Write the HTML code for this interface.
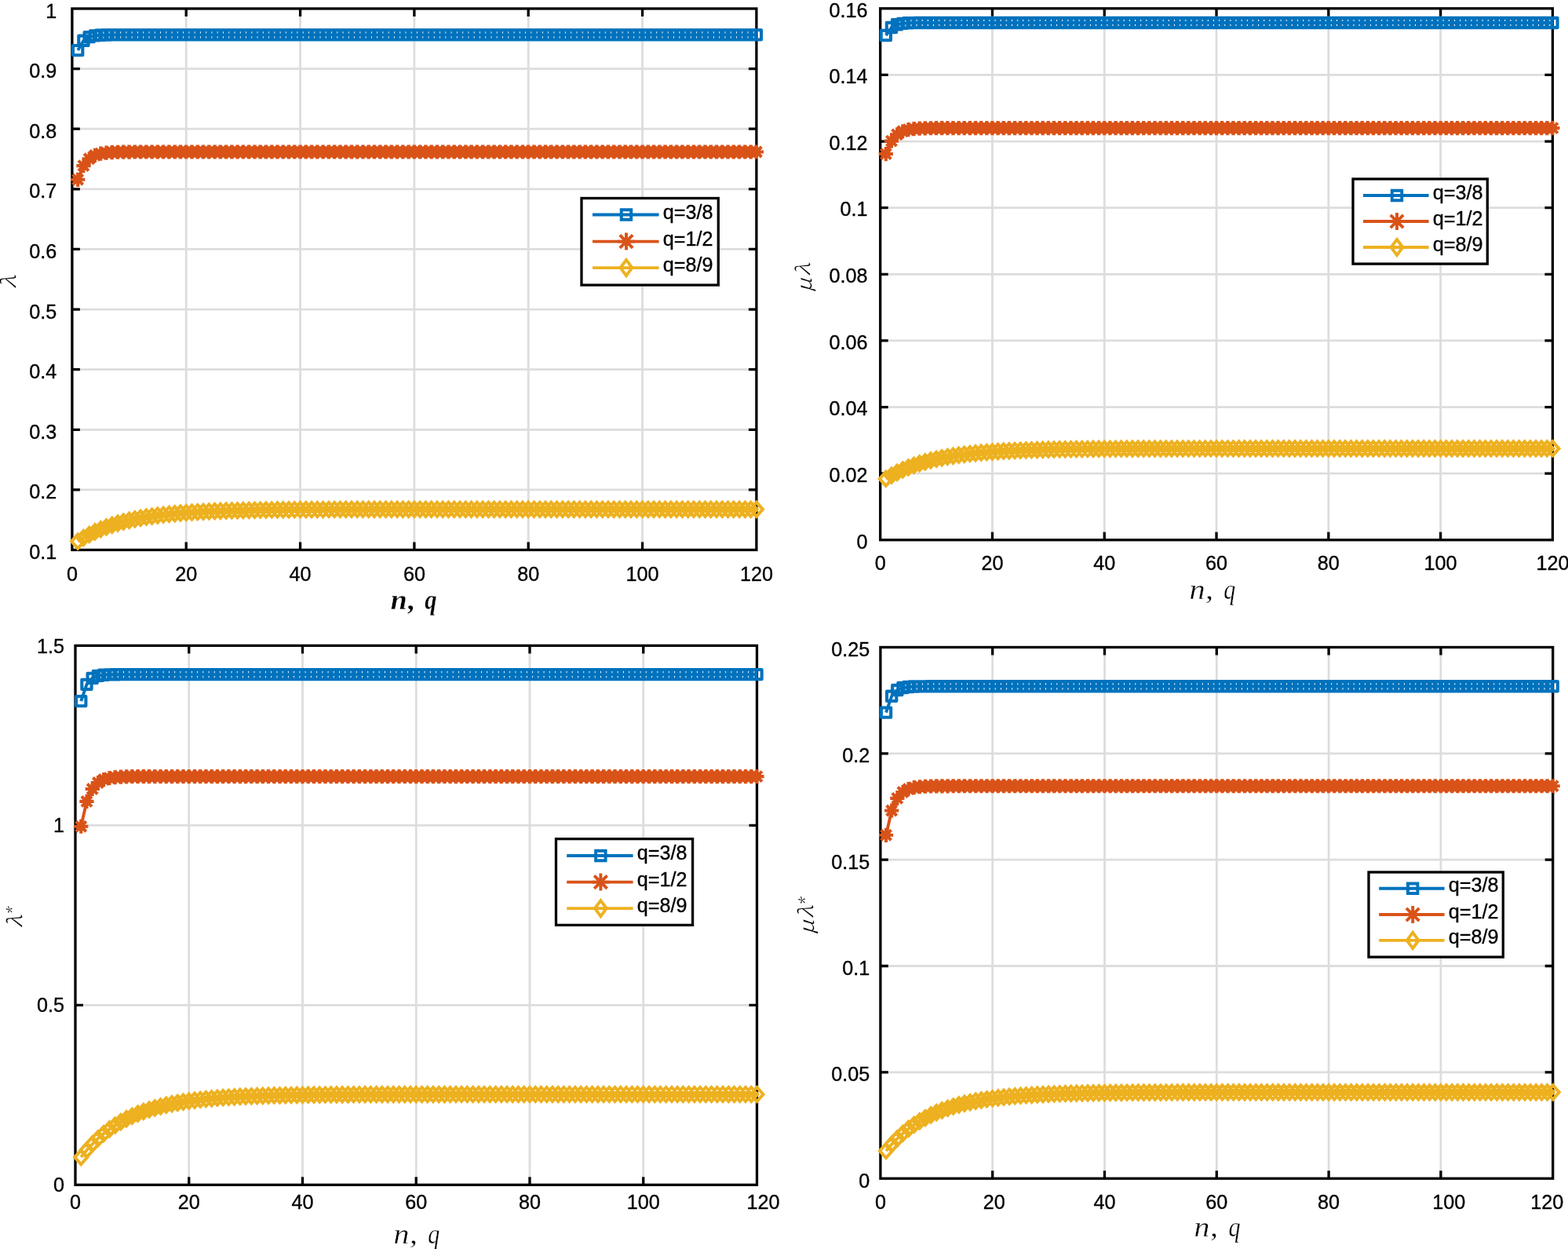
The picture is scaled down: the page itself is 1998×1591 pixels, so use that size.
<!DOCTYPE html><html><head><meta charset="utf-8"><style>html,body{margin:0;padding:0;background:#fff;}svg{display:block}.t{font-family:"Liberation Sans",Arial,Helvetica,sans-serif;font-size:25.2px;fill:#000;stroke:#000;stroke-width:0.35px}.m{font-family:"Liberation Serif","Times New Roman",serif;font-style:italic;fill:#000}</style></head><body>
<svg width="1998" height="1591" viewBox="0 0 1998 1591">
<rect width="1998" height="1591" fill="#fff"/>
<g><path d="M237.23 11V700.5M382.57 11V700.5M527.9 11V700.5M673.23 11V700.5M818.57 11V700.5M91.9 623.89H963.9M91.9 547.28H963.9M91.9 470.67H963.9M91.9 394.06H963.9M91.9 317.44H963.9M91.9 240.83H963.9M91.9 164.22H963.9M91.9 87.61H963.9" stroke="#dddddd" stroke-width="2.8" fill="none"/><path d="M237.23 700.5v-10M237.23 11v10M382.57 700.5v-10M382.57 11v10M527.9 700.5v-10M527.9 11v10M673.23 700.5v-10M673.23 11v10M818.57 700.5v-10M818.57 11v10M91.9 623.89h10M963.9 623.89h-10M91.9 547.28h10M963.9 547.28h-10M91.9 470.67h10M963.9 470.67h-10M91.9 394.06h10M963.9 394.06h-10M91.9 317.44h10M963.9 317.44h-10M91.9 240.83h10M963.9 240.83h-10M91.9 164.22h10M963.9 164.22h-10M91.9 87.61h10M963.9 87.61h-10" stroke="#000" stroke-width="3.3" fill="none"/><rect x="91.9" y="11" width="872" height="689.5" stroke="#000" stroke-width="3.3" fill="none"/><path d="M99.17 64.09 L106.43 51.74 L113.7 47.11 L120.97 45.37 L128.23 44.72 L135.5 44.47 L142.77 44.38 L150.03 44.35 L157.3 44.33 L164.57 44.33 L171.83 44.33 L179.1 44.33 L186.37 44.33 L193.63 44.33 L200.9 44.33 L208.17 44.33 L215.43 44.33 L222.7 44.33 L229.97 44.33 L237.23 44.33 L244.5 44.33 L251.77 44.33 L259.03 44.33 L266.3 44.33 L273.57 44.33 L280.83 44.33 L288.1 44.33 L295.37 44.33 L302.63 44.33 L309.9 44.33 L317.17 44.33 L324.43 44.33 L331.7 44.33 L338.97 44.33 L346.23 44.33 L353.5 44.33 L360.77 44.33 L368.03 44.33 L375.3 44.33 L382.57 44.33 L389.83 44.33 L397.1 44.33 L404.37 44.33 L411.63 44.33 L418.9 44.33 L426.17 44.33 L433.43 44.33 L440.7 44.33 L447.97 44.33 L455.23 44.33 L462.5 44.33 L469.77 44.33 L477.03 44.33 L484.3 44.33 L491.57 44.33 L498.83 44.33 L506.1 44.33 L513.37 44.33 L520.63 44.33 L527.9 44.33 L535.17 44.33 L542.43 44.33 L549.7 44.33 L556.97 44.33 L564.23 44.33 L571.5 44.33 L578.77 44.33 L586.03 44.33 L593.3 44.33 L600.57 44.33 L607.83 44.33 L615.1 44.33 L622.37 44.33 L629.63 44.33 L636.9 44.33 L644.17 44.33 L651.43 44.33 L658.7 44.33 L665.97 44.33 L673.23 44.33 L680.5 44.33 L687.77 44.33 L695.03 44.33 L702.3 44.33 L709.57 44.33 L716.83 44.33 L724.1 44.33 L731.37 44.33 L738.63 44.33 L745.9 44.33 L753.17 44.33 L760.43 44.33 L767.7 44.33 L774.97 44.33 L782.23 44.33 L789.5 44.33 L796.77 44.33 L804.03 44.33 L811.3 44.33 L818.57 44.33 L825.83 44.33 L833.1 44.33 L840.37 44.33 L847.63 44.33 L854.9 44.33 L862.17 44.33 L869.43 44.33 L876.7 44.33 L883.97 44.33 L891.23 44.33 L898.5 44.33 L905.77 44.33 L913.03 44.33 L920.3 44.33 L927.57 44.33 L934.83 44.33 L942.1 44.33 L949.37 44.33 L956.63 44.33 L963.9 44.33" stroke="#0072BD" stroke-width="3.9" fill="none" stroke-linejoin="round"/><path d="M93.02 57.94h12.3v12.3h-12.3zM100.28 45.59h12.3v12.3h-12.3zM107.55 40.96h12.3v12.3h-12.3zM114.82 39.22h12.3v12.3h-12.3zM122.08 38.57h12.3v12.3h-12.3zM129.35 38.32h12.3v12.3h-12.3zM136.62 38.23h12.3v12.3h-12.3zM143.88 38.2h12.3v12.3h-12.3zM151.15 38.18h12.3v12.3h-12.3zM158.42 38.18h12.3v12.3h-12.3zM165.68 38.18h12.3v12.3h-12.3zM172.95 38.18h12.3v12.3h-12.3zM180.22 38.18h12.3v12.3h-12.3zM187.48 38.18h12.3v12.3h-12.3zM194.75 38.18h12.3v12.3h-12.3zM202.02 38.18h12.3v12.3h-12.3zM209.28 38.18h12.3v12.3h-12.3zM216.55 38.18h12.3v12.3h-12.3zM223.82 38.18h12.3v12.3h-12.3zM231.08 38.18h12.3v12.3h-12.3zM238.35 38.18h12.3v12.3h-12.3zM245.62 38.18h12.3v12.3h-12.3zM252.88 38.18h12.3v12.3h-12.3zM260.15 38.18h12.3v12.3h-12.3zM267.42 38.18h12.3v12.3h-12.3zM274.68 38.18h12.3v12.3h-12.3zM281.95 38.18h12.3v12.3h-12.3zM289.22 38.18h12.3v12.3h-12.3zM296.48 38.18h12.3v12.3h-12.3zM303.75 38.18h12.3v12.3h-12.3zM311.02 38.18h12.3v12.3h-12.3zM318.28 38.18h12.3v12.3h-12.3zM325.55 38.18h12.3v12.3h-12.3zM332.82 38.18h12.3v12.3h-12.3zM340.08 38.18h12.3v12.3h-12.3zM347.35 38.18h12.3v12.3h-12.3zM354.62 38.18h12.3v12.3h-12.3zM361.88 38.18h12.3v12.3h-12.3zM369.15 38.18h12.3v12.3h-12.3zM376.42 38.18h12.3v12.3h-12.3zM383.68 38.18h12.3v12.3h-12.3zM390.95 38.18h12.3v12.3h-12.3zM398.22 38.18h12.3v12.3h-12.3zM405.48 38.18h12.3v12.3h-12.3zM412.75 38.18h12.3v12.3h-12.3zM420.02 38.18h12.3v12.3h-12.3zM427.28 38.18h12.3v12.3h-12.3zM434.55 38.18h12.3v12.3h-12.3zM441.82 38.18h12.3v12.3h-12.3zM449.08 38.18h12.3v12.3h-12.3zM456.35 38.18h12.3v12.3h-12.3zM463.62 38.18h12.3v12.3h-12.3zM470.88 38.18h12.3v12.3h-12.3zM478.15 38.18h12.3v12.3h-12.3zM485.42 38.18h12.3v12.3h-12.3zM492.68 38.18h12.3v12.3h-12.3zM499.95 38.18h12.3v12.3h-12.3zM507.22 38.18h12.3v12.3h-12.3zM514.48 38.18h12.3v12.3h-12.3zM521.75 38.18h12.3v12.3h-12.3zM529.02 38.18h12.3v12.3h-12.3zM536.28 38.18h12.3v12.3h-12.3zM543.55 38.18h12.3v12.3h-12.3zM550.82 38.18h12.3v12.3h-12.3zM558.08 38.18h12.3v12.3h-12.3zM565.35 38.18h12.3v12.3h-12.3zM572.62 38.18h12.3v12.3h-12.3zM579.88 38.18h12.3v12.3h-12.3zM587.15 38.18h12.3v12.3h-12.3zM594.42 38.18h12.3v12.3h-12.3zM601.68 38.18h12.3v12.3h-12.3zM608.95 38.18h12.3v12.3h-12.3zM616.22 38.18h12.3v12.3h-12.3zM623.48 38.18h12.3v12.3h-12.3zM630.75 38.18h12.3v12.3h-12.3zM638.02 38.18h12.3v12.3h-12.3zM645.28 38.18h12.3v12.3h-12.3zM652.55 38.18h12.3v12.3h-12.3zM659.82 38.18h12.3v12.3h-12.3zM667.08 38.18h12.3v12.3h-12.3zM674.35 38.18h12.3v12.3h-12.3zM681.62 38.18h12.3v12.3h-12.3zM688.88 38.18h12.3v12.3h-12.3zM696.15 38.18h12.3v12.3h-12.3zM703.42 38.18h12.3v12.3h-12.3zM710.68 38.18h12.3v12.3h-12.3zM717.95 38.18h12.3v12.3h-12.3zM725.22 38.18h12.3v12.3h-12.3zM732.48 38.18h12.3v12.3h-12.3zM739.75 38.18h12.3v12.3h-12.3zM747.02 38.18h12.3v12.3h-12.3zM754.28 38.18h12.3v12.3h-12.3zM761.55 38.18h12.3v12.3h-12.3zM768.82 38.18h12.3v12.3h-12.3zM776.08 38.18h12.3v12.3h-12.3zM783.35 38.18h12.3v12.3h-12.3zM790.62 38.18h12.3v12.3h-12.3zM797.88 38.18h12.3v12.3h-12.3zM805.15 38.18h12.3v12.3h-12.3zM812.42 38.18h12.3v12.3h-12.3zM819.68 38.18h12.3v12.3h-12.3zM826.95 38.18h12.3v12.3h-12.3zM834.22 38.18h12.3v12.3h-12.3zM841.48 38.18h12.3v12.3h-12.3zM848.75 38.18h12.3v12.3h-12.3zM856.02 38.18h12.3v12.3h-12.3zM863.28 38.18h12.3v12.3h-12.3zM870.55 38.18h12.3v12.3h-12.3zM877.82 38.18h12.3v12.3h-12.3zM885.08 38.18h12.3v12.3h-12.3zM892.35 38.18h12.3v12.3h-12.3zM899.62 38.18h12.3v12.3h-12.3zM906.88 38.18h12.3v12.3h-12.3zM914.15 38.18h12.3v12.3h-12.3zM921.42 38.18h12.3v12.3h-12.3zM928.68 38.18h12.3v12.3h-12.3zM935.95 38.18h12.3v12.3h-12.3zM943.22 38.18h12.3v12.3h-12.3zM950.48 38.18h12.3v12.3h-12.3zM957.75 38.18h12.3v12.3h-12.3z" stroke="#0072BD" stroke-width="4.1" fill="none" stroke-linejoin="round"/><path d="M99.17 228.81 L106.43 211.15 L113.7 202.32 L120.97 197.9 L128.23 195.7 L135.5 194.59 L142.77 194.04 L150.03 193.76 L157.3 193.63 L164.57 193.56 L171.83 193.52 L179.1 193.5 L186.37 193.5 L193.63 193.49 L200.9 193.49 L208.17 193.49 L215.43 193.49 L222.7 193.49 L229.97 193.49 L237.23 193.49 L244.5 193.49 L251.77 193.49 L259.03 193.49 L266.3 193.49 L273.57 193.49 L280.83 193.49 L288.1 193.49 L295.37 193.49 L302.63 193.49 L309.9 193.49 L317.17 193.49 L324.43 193.49 L331.7 193.49 L338.97 193.49 L346.23 193.49 L353.5 193.49 L360.77 193.49 L368.03 193.49 L375.3 193.49 L382.57 193.49 L389.83 193.49 L397.1 193.49 L404.37 193.49 L411.63 193.49 L418.9 193.49 L426.17 193.49 L433.43 193.49 L440.7 193.49 L447.97 193.49 L455.23 193.49 L462.5 193.49 L469.77 193.49 L477.03 193.49 L484.3 193.49 L491.57 193.49 L498.83 193.49 L506.1 193.49 L513.37 193.49 L520.63 193.49 L527.9 193.49 L535.17 193.49 L542.43 193.49 L549.7 193.49 L556.97 193.49 L564.23 193.49 L571.5 193.49 L578.77 193.49 L586.03 193.49 L593.3 193.49 L600.57 193.49 L607.83 193.49 L615.1 193.49 L622.37 193.49 L629.63 193.49 L636.9 193.49 L644.17 193.49 L651.43 193.49 L658.7 193.49 L665.97 193.49 L673.23 193.49 L680.5 193.49 L687.77 193.49 L695.03 193.49 L702.3 193.49 L709.57 193.49 L716.83 193.49 L724.1 193.49 L731.37 193.49 L738.63 193.49 L745.9 193.49 L753.17 193.49 L760.43 193.49 L767.7 193.49 L774.97 193.49 L782.23 193.49 L789.5 193.49 L796.77 193.49 L804.03 193.49 L811.3 193.49 L818.57 193.49 L825.83 193.49 L833.1 193.49 L840.37 193.49 L847.63 193.49 L854.9 193.49 L862.17 193.49 L869.43 193.49 L876.7 193.49 L883.97 193.49 L891.23 193.49 L898.5 193.49 L905.77 193.49 L913.03 193.49 L920.3 193.49 L927.57 193.49 L934.83 193.49 L942.1 193.49 L949.37 193.49 L956.63 193.49 L963.9 193.49" stroke="#D95319" stroke-width="3.9" fill="none" stroke-linejoin="round"/><path d="M99.17 219.71v18.2M90.07 228.81h18.2M92.67 222.31l13 13M92.67 235.31l13 -13M106.43 202.05v18.2M97.33 211.15h18.2M99.93 204.65l13 13M99.93 217.65l13 -13M113.7 193.22v18.2M104.6 202.32h18.2M107.2 195.82l13 13M107.2 208.82l13 -13M120.97 188.8v18.2M111.87 197.9h18.2M114.47 191.4l13 13M114.47 204.4l13 -13M128.23 186.6v18.2M119.13 195.7h18.2M121.73 189.2l13 13M121.73 202.2l13 -13M135.5 185.49v18.2M126.4 194.59h18.2M129 188.09l13 13M129 201.09l13 -13M142.77 184.94v18.2M133.67 194.04h18.2M136.27 187.54l13 13M136.27 200.54l13 -13M150.03 184.66v18.2M140.93 193.76h18.2M143.53 187.26l13 13M143.53 200.26l13 -13M157.3 184.53v18.2M148.2 193.63h18.2M150.8 187.13l13 13M150.8 200.13l13 -13M164.57 184.46v18.2M155.47 193.56h18.2M158.07 187.06l13 13M158.07 200.06l13 -13M171.83 184.42v18.2M162.73 193.52h18.2M165.33 187.02l13 13M165.33 200.02l13 -13M179.1 184.4v18.2M170 193.5h18.2M172.6 187l13 13M172.6 200l13 -13M186.37 184.4v18.2M177.27 193.5h18.2M179.87 187l13 13M179.87 200l13 -13M193.63 184.39v18.2M184.53 193.49h18.2M187.13 186.99l13 13M187.13 199.99l13 -13M200.9 184.39v18.2M191.8 193.49h18.2M194.4 186.99l13 13M194.4 199.99l13 -13M208.17 184.39v18.2M199.07 193.49h18.2M201.67 186.99l13 13M201.67 199.99l13 -13M215.43 184.39v18.2M206.33 193.49h18.2M208.93 186.99l13 13M208.93 199.99l13 -13M222.7 184.39v18.2M213.6 193.49h18.2M216.2 186.99l13 13M216.2 199.99l13 -13M229.97 184.39v18.2M220.87 193.49h18.2M223.47 186.99l13 13M223.47 199.99l13 -13M237.23 184.39v18.2M228.13 193.49h18.2M230.73 186.99l13 13M230.73 199.99l13 -13M244.5 184.39v18.2M235.4 193.49h18.2M238 186.99l13 13M238 199.99l13 -13M251.77 184.39v18.2M242.67 193.49h18.2M245.27 186.99l13 13M245.27 199.99l13 -13M259.03 184.39v18.2M249.93 193.49h18.2M252.53 186.99l13 13M252.53 199.99l13 -13M266.3 184.39v18.2M257.2 193.49h18.2M259.8 186.99l13 13M259.8 199.99l13 -13M273.57 184.39v18.2M264.47 193.49h18.2M267.07 186.99l13 13M267.07 199.99l13 -13M280.83 184.39v18.2M271.73 193.49h18.2M274.33 186.99l13 13M274.33 199.99l13 -13M288.1 184.39v18.2M279 193.49h18.2M281.6 186.99l13 13M281.6 199.99l13 -13M295.37 184.39v18.2M286.27 193.49h18.2M288.87 186.99l13 13M288.87 199.99l13 -13M302.63 184.39v18.2M293.53 193.49h18.2M296.13 186.99l13 13M296.13 199.99l13 -13M309.9 184.39v18.2M300.8 193.49h18.2M303.4 186.99l13 13M303.4 199.99l13 -13M317.17 184.39v18.2M308.07 193.49h18.2M310.67 186.99l13 13M310.67 199.99l13 -13M324.43 184.39v18.2M315.33 193.49h18.2M317.93 186.99l13 13M317.93 199.99l13 -13M331.7 184.39v18.2M322.6 193.49h18.2M325.2 186.99l13 13M325.2 199.99l13 -13M338.97 184.39v18.2M329.87 193.49h18.2M332.47 186.99l13 13M332.47 199.99l13 -13M346.23 184.39v18.2M337.13 193.49h18.2M339.73 186.99l13 13M339.73 199.99l13 -13M353.5 184.39v18.2M344.4 193.49h18.2M347 186.99l13 13M347 199.99l13 -13M360.77 184.39v18.2M351.67 193.49h18.2M354.27 186.99l13 13M354.27 199.99l13 -13M368.03 184.39v18.2M358.93 193.49h18.2M361.53 186.99l13 13M361.53 199.99l13 -13M375.3 184.39v18.2M366.2 193.49h18.2M368.8 186.99l13 13M368.8 199.99l13 -13M382.57 184.39v18.2M373.47 193.49h18.2M376.07 186.99l13 13M376.07 199.99l13 -13M389.83 184.39v18.2M380.73 193.49h18.2M383.33 186.99l13 13M383.33 199.99l13 -13M397.1 184.39v18.2M388 193.49h18.2M390.6 186.99l13 13M390.6 199.99l13 -13M404.37 184.39v18.2M395.27 193.49h18.2M397.87 186.99l13 13M397.87 199.99l13 -13M411.63 184.39v18.2M402.53 193.49h18.2M405.13 186.99l13 13M405.13 199.99l13 -13M418.9 184.39v18.2M409.8 193.49h18.2M412.4 186.99l13 13M412.4 199.99l13 -13M426.17 184.39v18.2M417.07 193.49h18.2M419.67 186.99l13 13M419.67 199.99l13 -13M433.43 184.39v18.2M424.33 193.49h18.2M426.93 186.99l13 13M426.93 199.99l13 -13M440.7 184.39v18.2M431.6 193.49h18.2M434.2 186.99l13 13M434.2 199.99l13 -13M447.97 184.39v18.2M438.87 193.49h18.2M441.47 186.99l13 13M441.47 199.99l13 -13M455.23 184.39v18.2M446.13 193.49h18.2M448.73 186.99l13 13M448.73 199.99l13 -13M462.5 184.39v18.2M453.4 193.49h18.2M456 186.99l13 13M456 199.99l13 -13M469.77 184.39v18.2M460.67 193.49h18.2M463.27 186.99l13 13M463.27 199.99l13 -13M477.03 184.39v18.2M467.93 193.49h18.2M470.53 186.99l13 13M470.53 199.99l13 -13M484.3 184.39v18.2M475.2 193.49h18.2M477.8 186.99l13 13M477.8 199.99l13 -13M491.57 184.39v18.2M482.47 193.49h18.2M485.07 186.99l13 13M485.07 199.99l13 -13M498.83 184.39v18.2M489.73 193.49h18.2M492.33 186.99l13 13M492.33 199.99l13 -13M506.1 184.39v18.2M497 193.49h18.2M499.6 186.99l13 13M499.6 199.99l13 -13M513.37 184.39v18.2M504.27 193.49h18.2M506.87 186.99l13 13M506.87 199.99l13 -13M520.63 184.39v18.2M511.53 193.49h18.2M514.13 186.99l13 13M514.13 199.99l13 -13M527.9 184.39v18.2M518.8 193.49h18.2M521.4 186.99l13 13M521.4 199.99l13 -13M535.17 184.39v18.2M526.07 193.49h18.2M528.67 186.99l13 13M528.67 199.99l13 -13M542.43 184.39v18.2M533.33 193.49h18.2M535.93 186.99l13 13M535.93 199.99l13 -13M549.7 184.39v18.2M540.6 193.49h18.2M543.2 186.99l13 13M543.2 199.99l13 -13M556.97 184.39v18.2M547.87 193.49h18.2M550.47 186.99l13 13M550.47 199.99l13 -13M564.23 184.39v18.2M555.13 193.49h18.2M557.73 186.99l13 13M557.73 199.99l13 -13M571.5 184.39v18.2M562.4 193.49h18.2M565 186.99l13 13M565 199.99l13 -13M578.77 184.39v18.2M569.67 193.49h18.2M572.27 186.99l13 13M572.27 199.99l13 -13M586.03 184.39v18.2M576.93 193.49h18.2M579.53 186.99l13 13M579.53 199.99l13 -13M593.3 184.39v18.2M584.2 193.49h18.2M586.8 186.99l13 13M586.8 199.99l13 -13M600.57 184.39v18.2M591.47 193.49h18.2M594.07 186.99l13 13M594.07 199.99l13 -13M607.83 184.39v18.2M598.73 193.49h18.2M601.33 186.99l13 13M601.33 199.99l13 -13M615.1 184.39v18.2M606 193.49h18.2M608.6 186.99l13 13M608.6 199.99l13 -13M622.37 184.39v18.2M613.27 193.49h18.2M615.87 186.99l13 13M615.87 199.99l13 -13M629.63 184.39v18.2M620.53 193.49h18.2M623.13 186.99l13 13M623.13 199.99l13 -13M636.9 184.39v18.2M627.8 193.49h18.2M630.4 186.99l13 13M630.4 199.99l13 -13M644.17 184.39v18.2M635.07 193.49h18.2M637.67 186.99l13 13M637.67 199.99l13 -13M651.43 184.39v18.2M642.33 193.49h18.2M644.93 186.99l13 13M644.93 199.99l13 -13M658.7 184.39v18.2M649.6 193.49h18.2M652.2 186.99l13 13M652.2 199.99l13 -13M665.97 184.39v18.2M656.87 193.49h18.2M659.47 186.99l13 13M659.47 199.99l13 -13M673.23 184.39v18.2M664.13 193.49h18.2M666.73 186.99l13 13M666.73 199.99l13 -13M680.5 184.39v18.2M671.4 193.49h18.2M674 186.99l13 13M674 199.99l13 -13M687.77 184.39v18.2M678.67 193.49h18.2M681.27 186.99l13 13M681.27 199.99l13 -13M695.03 184.39v18.2M685.93 193.49h18.2M688.53 186.99l13 13M688.53 199.99l13 -13M702.3 184.39v18.2M693.2 193.49h18.2M695.8 186.99l13 13M695.8 199.99l13 -13M709.57 184.39v18.2M700.47 193.49h18.2M703.07 186.99l13 13M703.07 199.99l13 -13M716.83 184.39v18.2M707.73 193.49h18.2M710.33 186.99l13 13M710.33 199.99l13 -13M724.1 184.39v18.2M715 193.49h18.2M717.6 186.99l13 13M717.6 199.99l13 -13M731.37 184.39v18.2M722.27 193.49h18.2M724.87 186.99l13 13M724.87 199.99l13 -13M738.63 184.39v18.2M729.53 193.49h18.2M732.13 186.99l13 13M732.13 199.99l13 -13M745.9 184.39v18.2M736.8 193.49h18.2M739.4 186.99l13 13M739.4 199.99l13 -13M753.17 184.39v18.2M744.07 193.49h18.2M746.67 186.99l13 13M746.67 199.99l13 -13M760.43 184.39v18.2M751.33 193.49h18.2M753.93 186.99l13 13M753.93 199.99l13 -13M767.7 184.39v18.2M758.6 193.49h18.2M761.2 186.99l13 13M761.2 199.99l13 -13M774.97 184.39v18.2M765.87 193.49h18.2M768.47 186.99l13 13M768.47 199.99l13 -13M782.23 184.39v18.2M773.13 193.49h18.2M775.73 186.99l13 13M775.73 199.99l13 -13M789.5 184.39v18.2M780.4 193.49h18.2M783 186.99l13 13M783 199.99l13 -13M796.77 184.39v18.2M787.67 193.49h18.2M790.27 186.99l13 13M790.27 199.99l13 -13M804.03 184.39v18.2M794.93 193.49h18.2M797.53 186.99l13 13M797.53 199.99l13 -13M811.3 184.39v18.2M802.2 193.49h18.2M804.8 186.99l13 13M804.8 199.99l13 -13M818.57 184.39v18.2M809.47 193.49h18.2M812.07 186.99l13 13M812.07 199.99l13 -13M825.83 184.39v18.2M816.73 193.49h18.2M819.33 186.99l13 13M819.33 199.99l13 -13M833.1 184.39v18.2M824 193.49h18.2M826.6 186.99l13 13M826.6 199.99l13 -13M840.37 184.39v18.2M831.27 193.49h18.2M833.87 186.99l13 13M833.87 199.99l13 -13M847.63 184.39v18.2M838.53 193.49h18.2M841.13 186.99l13 13M841.13 199.99l13 -13M854.9 184.39v18.2M845.8 193.49h18.2M848.4 186.99l13 13M848.4 199.99l13 -13M862.17 184.39v18.2M853.07 193.49h18.2M855.67 186.99l13 13M855.67 199.99l13 -13M869.43 184.39v18.2M860.33 193.49h18.2M862.93 186.99l13 13M862.93 199.99l13 -13M876.7 184.39v18.2M867.6 193.49h18.2M870.2 186.99l13 13M870.2 199.99l13 -13M883.97 184.39v18.2M874.87 193.49h18.2M877.47 186.99l13 13M877.47 199.99l13 -13M891.23 184.39v18.2M882.13 193.49h18.2M884.73 186.99l13 13M884.73 199.99l13 -13M898.5 184.39v18.2M889.4 193.49h18.2M892 186.99l13 13M892 199.99l13 -13M905.77 184.39v18.2M896.67 193.49h18.2M899.27 186.99l13 13M899.27 199.99l13 -13M913.03 184.39v18.2M903.93 193.49h18.2M906.53 186.99l13 13M906.53 199.99l13 -13M920.3 184.39v18.2M911.2 193.49h18.2M913.8 186.99l13 13M913.8 199.99l13 -13M927.57 184.39v18.2M918.47 193.49h18.2M921.07 186.99l13 13M921.07 199.99l13 -13M934.83 184.39v18.2M925.73 193.49h18.2M928.33 186.99l13 13M928.33 199.99l13 -13M942.1 184.39v18.2M933 193.49h18.2M935.6 186.99l13 13M935.6 199.99l13 -13M949.37 184.39v18.2M940.27 193.49h18.2M942.87 186.99l13 13M942.87 199.99l13 -13M956.63 184.39v18.2M947.53 193.49h18.2M950.13 186.99l13 13M950.13 199.99l13 -13M963.9 184.39v18.2M954.8 193.49h18.2M957.4 186.99l13 13M957.4 199.99l13 -13" stroke="#D95319" stroke-width="4.1" fill="none" stroke-linejoin="round"/><path d="M99.17 689.54 L106.43 685.02 L113.7 680.99 L120.97 677.41 L128.23 674.23 L135.5 671.4 L142.77 668.89 L150.03 666.66 L157.3 664.67 L164.57 662.91 L171.83 661.34 L179.1 659.94 L186.37 658.7 L193.63 657.6 L200.9 656.62 L208.17 655.75 L215.43 654.98 L222.7 654.29 L229.97 653.68 L237.23 653.14 L244.5 652.65 L251.77 652.22 L259.03 651.84 L266.3 651.5 L273.57 651.2 L280.83 650.93 L288.1 650.69 L295.37 650.48 L302.63 650.29 L309.9 650.13 L317.17 649.98 L324.43 649.85 L331.7 649.73 L338.97 649.62 L346.23 649.53 L353.5 649.45 L360.77 649.37 L368.03 649.31 L375.3 649.25 L382.57 649.2 L389.83 649.15 L397.1 649.11 L404.37 649.08 L411.63 649.04 L418.9 649.02 L426.17 648.99 L433.43 648.97 L440.7 648.95 L447.97 648.93 L455.23 648.91 L462.5 648.9 L469.77 648.89 L477.03 648.88 L484.3 648.87 L491.57 648.86 L498.83 648.85 L506.1 648.84 L513.37 648.84 L520.63 648.83 L527.9 648.83 L535.17 648.82 L542.43 648.82 L549.7 648.81 L556.97 648.81 L564.23 648.81 L571.5 648.81 L578.77 648.8 L586.03 648.8 L593.3 648.8 L600.57 648.8 L607.83 648.8 L615.1 648.8 L622.37 648.8 L629.63 648.8 L636.9 648.79 L644.17 648.79 L651.43 648.79 L658.7 648.79 L665.97 648.79 L673.23 648.79 L680.5 648.79 L687.77 648.79 L695.03 648.79 L702.3 648.79 L709.57 648.79 L716.83 648.79 L724.1 648.79 L731.37 648.79 L738.63 648.79 L745.9 648.79 L753.17 648.79 L760.43 648.79 L767.7 648.79 L774.97 648.79 L782.23 648.79 L789.5 648.79 L796.77 648.79 L804.03 648.79 L811.3 648.79 L818.57 648.79 L825.83 648.79 L833.1 648.79 L840.37 648.79 L847.63 648.79 L854.9 648.79 L862.17 648.79 L869.43 648.79 L876.7 648.79 L883.97 648.79 L891.23 648.79 L898.5 648.79 L905.77 648.79 L913.03 648.79 L920.3 648.79 L927.57 648.79 L934.83 648.79 L942.1 648.79 L949.37 648.79 L956.63 648.79 L963.9 648.79" stroke="#EDB120" stroke-width="3.9" fill="none" stroke-linejoin="round"/><path d="M99.17 680.54L107.17 689.54L99.17 698.54L91.17 689.54zM106.43 676.02L114.43 685.02L106.43 694.02L98.43 685.02zM113.7 671.99L121.7 680.99L113.7 689.99L105.7 680.99zM120.97 668.41L128.97 677.41L120.97 686.41L112.97 677.41zM128.23 665.23L136.23 674.23L128.23 683.23L120.23 674.23zM135.5 662.4L143.5 671.4L135.5 680.4L127.5 671.4zM142.77 659.89L150.77 668.89L142.77 677.89L134.77 668.89zM150.03 657.66L158.03 666.66L150.03 675.66L142.03 666.66zM157.3 655.67L165.3 664.67L157.3 673.67L149.3 664.67zM164.57 653.91L172.57 662.91L164.57 671.91L156.57 662.91zM171.83 652.34L179.83 661.34L171.83 670.34L163.83 661.34zM179.1 650.94L187.1 659.94L179.1 668.94L171.1 659.94zM186.37 649.7L194.37 658.7L186.37 667.7L178.37 658.7zM193.63 648.6L201.63 657.6L193.63 666.6L185.63 657.6zM200.9 647.62L208.9 656.62L200.9 665.62L192.9 656.62zM208.17 646.75L216.17 655.75L208.17 664.75L200.17 655.75zM215.43 645.98L223.43 654.98L215.43 663.98L207.43 654.98zM222.7 645.29L230.7 654.29L222.7 663.29L214.7 654.29zM229.97 644.68L237.97 653.68L229.97 662.68L221.97 653.68zM237.23 644.14L245.23 653.14L237.23 662.14L229.23 653.14zM244.5 643.65L252.5 652.65L244.5 661.65L236.5 652.65zM251.77 643.22L259.77 652.22L251.77 661.22L243.77 652.22zM259.03 642.84L267.03 651.84L259.03 660.84L251.03 651.84zM266.3 642.5L274.3 651.5L266.3 660.5L258.3 651.5zM273.57 642.2L281.57 651.2L273.57 660.2L265.57 651.2zM280.83 641.93L288.83 650.93L280.83 659.93L272.83 650.93zM288.1 641.69L296.1 650.69L288.1 659.69L280.1 650.69zM295.37 641.48L303.37 650.48L295.37 659.48L287.37 650.48zM302.63 641.29L310.63 650.29L302.63 659.29L294.63 650.29zM309.9 641.13L317.9 650.13L309.9 659.13L301.9 650.13zM317.17 640.98L325.17 649.98L317.17 658.98L309.17 649.98zM324.43 640.85L332.43 649.85L324.43 658.85L316.43 649.85zM331.7 640.73L339.7 649.73L331.7 658.73L323.7 649.73zM338.97 640.62L346.97 649.62L338.97 658.62L330.97 649.62zM346.23 640.53L354.23 649.53L346.23 658.53L338.23 649.53zM353.5 640.45L361.5 649.45L353.5 658.45L345.5 649.45zM360.77 640.37L368.77 649.37L360.77 658.37L352.77 649.37zM368.03 640.31L376.03 649.31L368.03 658.31L360.03 649.31zM375.3 640.25L383.3 649.25L375.3 658.25L367.3 649.25zM382.57 640.2L390.57 649.2L382.57 658.2L374.57 649.2zM389.83 640.15L397.83 649.15L389.83 658.15L381.83 649.15zM397.1 640.11L405.1 649.11L397.1 658.11L389.1 649.11zM404.37 640.08L412.37 649.08L404.37 658.08L396.37 649.08zM411.63 640.04L419.63 649.04L411.63 658.04L403.63 649.04zM418.9 640.02L426.9 649.02L418.9 658.02L410.9 649.02zM426.17 639.99L434.17 648.99L426.17 657.99L418.17 648.99zM433.43 639.97L441.43 648.97L433.43 657.97L425.43 648.97zM440.7 639.95L448.7 648.95L440.7 657.95L432.7 648.95zM447.97 639.93L455.97 648.93L447.97 657.93L439.97 648.93zM455.23 639.91L463.23 648.91L455.23 657.91L447.23 648.91zM462.5 639.9L470.5 648.9L462.5 657.9L454.5 648.9zM469.77 639.89L477.77 648.89L469.77 657.89L461.77 648.89zM477.03 639.88L485.03 648.88L477.03 657.88L469.03 648.88zM484.3 639.87L492.3 648.87L484.3 657.87L476.3 648.87zM491.57 639.86L499.57 648.86L491.57 657.86L483.57 648.86zM498.83 639.85L506.83 648.85L498.83 657.85L490.83 648.85zM506.1 639.84L514.1 648.84L506.1 657.84L498.1 648.84zM513.37 639.84L521.37 648.84L513.37 657.84L505.37 648.84zM520.63 639.83L528.63 648.83L520.63 657.83L512.63 648.83zM527.9 639.83L535.9 648.83L527.9 657.83L519.9 648.83zM535.17 639.82L543.17 648.82L535.17 657.82L527.17 648.82zM542.43 639.82L550.43 648.82L542.43 657.82L534.43 648.82zM549.7 639.81L557.7 648.81L549.7 657.81L541.7 648.81zM556.97 639.81L564.97 648.81L556.97 657.81L548.97 648.81zM564.23 639.81L572.23 648.81L564.23 657.81L556.23 648.81zM571.5 639.81L579.5 648.81L571.5 657.81L563.5 648.81zM578.77 639.8L586.77 648.8L578.77 657.8L570.77 648.8zM586.03 639.8L594.03 648.8L586.03 657.8L578.03 648.8zM593.3 639.8L601.3 648.8L593.3 657.8L585.3 648.8zM600.57 639.8L608.57 648.8L600.57 657.8L592.57 648.8zM607.83 639.8L615.83 648.8L607.83 657.8L599.83 648.8zM615.1 639.8L623.1 648.8L615.1 657.8L607.1 648.8zM622.37 639.8L630.37 648.8L622.37 657.8L614.37 648.8zM629.63 639.8L637.63 648.8L629.63 657.8L621.63 648.8zM636.9 639.79L644.9 648.79L636.9 657.79L628.9 648.79zM644.17 639.79L652.17 648.79L644.17 657.79L636.17 648.79zM651.43 639.79L659.43 648.79L651.43 657.79L643.43 648.79zM658.7 639.79L666.7 648.79L658.7 657.79L650.7 648.79zM665.97 639.79L673.97 648.79L665.97 657.79L657.97 648.79zM673.23 639.79L681.23 648.79L673.23 657.79L665.23 648.79zM680.5 639.79L688.5 648.79L680.5 657.79L672.5 648.79zM687.77 639.79L695.77 648.79L687.77 657.79L679.77 648.79zM695.03 639.79L703.03 648.79L695.03 657.79L687.03 648.79zM702.3 639.79L710.3 648.79L702.3 657.79L694.3 648.79zM709.57 639.79L717.57 648.79L709.57 657.79L701.57 648.79zM716.83 639.79L724.83 648.79L716.83 657.79L708.83 648.79zM724.1 639.79L732.1 648.79L724.1 657.79L716.1 648.79zM731.37 639.79L739.37 648.79L731.37 657.79L723.37 648.79zM738.63 639.79L746.63 648.79L738.63 657.79L730.63 648.79zM745.9 639.79L753.9 648.79L745.9 657.79L737.9 648.79zM753.17 639.79L761.17 648.79L753.17 657.79L745.17 648.79zM760.43 639.79L768.43 648.79L760.43 657.79L752.43 648.79zM767.7 639.79L775.7 648.79L767.7 657.79L759.7 648.79zM774.97 639.79L782.97 648.79L774.97 657.79L766.97 648.79zM782.23 639.79L790.23 648.79L782.23 657.79L774.23 648.79zM789.5 639.79L797.5 648.79L789.5 657.79L781.5 648.79zM796.77 639.79L804.77 648.79L796.77 657.79L788.77 648.79zM804.03 639.79L812.03 648.79L804.03 657.79L796.03 648.79zM811.3 639.79L819.3 648.79L811.3 657.79L803.3 648.79zM818.57 639.79L826.57 648.79L818.57 657.79L810.57 648.79zM825.83 639.79L833.83 648.79L825.83 657.79L817.83 648.79zM833.1 639.79L841.1 648.79L833.1 657.79L825.1 648.79zM840.37 639.79L848.37 648.79L840.37 657.79L832.37 648.79zM847.63 639.79L855.63 648.79L847.63 657.79L839.63 648.79zM854.9 639.79L862.9 648.79L854.9 657.79L846.9 648.79zM862.17 639.79L870.17 648.79L862.17 657.79L854.17 648.79zM869.43 639.79L877.43 648.79L869.43 657.79L861.43 648.79zM876.7 639.79L884.7 648.79L876.7 657.79L868.7 648.79zM883.97 639.79L891.97 648.79L883.97 657.79L875.97 648.79zM891.23 639.79L899.23 648.79L891.23 657.79L883.23 648.79zM898.5 639.79L906.5 648.79L898.5 657.79L890.5 648.79zM905.77 639.79L913.77 648.79L905.77 657.79L897.77 648.79zM913.03 639.79L921.03 648.79L913.03 657.79L905.03 648.79zM920.3 639.79L928.3 648.79L920.3 657.79L912.3 648.79zM927.57 639.79L935.57 648.79L927.57 657.79L919.57 648.79zM934.83 639.79L942.83 648.79L934.83 657.79L926.83 648.79zM942.1 639.79L950.1 648.79L942.1 657.79L934.1 648.79zM949.37 639.79L957.37 648.79L949.37 657.79L941.37 648.79zM956.63 639.79L964.63 648.79L956.63 657.79L948.63 648.79zM963.9 639.79L971.9 648.79L963.9 657.79L955.9 648.79z" stroke="#EDB120" stroke-width="4.1" fill="none" stroke-linejoin="miter"/><text class="t" x="72.2" y="712.1" text-anchor="end">0.1</text><text class="t" x="72.2" y="635.49" text-anchor="end">0.2</text><text class="t" x="72.2" y="558.88" text-anchor="end">0.3</text><text class="t" x="72.2" y="482.27" text-anchor="end">0.4</text><text class="t" x="72.2" y="405.66" text-anchor="end">0.5</text><text class="t" x="72.2" y="329.04" text-anchor="end">0.6</text><text class="t" x="72.2" y="252.43" text-anchor="end">0.7</text><text class="t" x="72.2" y="175.82" text-anchor="end">0.8</text><text class="t" x="72.2" y="99.21" text-anchor="end">0.9</text><text class="t" x="72.2" y="22.6" text-anchor="end">1</text><text class="t" x="91.9" y="739.5" text-anchor="middle">0</text><text class="t" x="237.23" y="739.5" text-anchor="middle">20</text><text class="t" x="382.57" y="739.5" text-anchor="middle">40</text><text class="t" x="527.9" y="739.5" text-anchor="middle">60</text><text class="t" x="673.23" y="739.5" text-anchor="middle">80</text><text class="t" x="818.57" y="739.5" text-anchor="middle">100</text><text class="t" x="963.9" y="739.5" text-anchor="middle">120</text><text class="m" font-size="100" font-weight="bold" stroke="#fff" stroke-width="1.00" transform="translate(497.75 775.5) scale(0.3773 0.3511)">n</text><text class="m" font-size="100" font-weight="bold" stroke="#fff" stroke-width="1.00" transform="translate(519.95 775.5) scale(0.3773 0.3511)">,</text><text class="m" font-size="100" font-weight="bold" stroke="#fff" stroke-width="1.00" transform="translate(541.34 775.5) scale(0.3065 0.3511)">q</text><text class="m" style="font-family:'Noto Serif CJK SC',serif;font-style:normal;font-weight:300" font-size="100" stroke="#fff" stroke-width="0.00" transform="translate(19.62 367.44) rotate(-90) scale(0.2964 0.2540) skewX(-14)">λ</text><rect x="741" y="252.5" width="174.3" height="110.6" fill="#fff" stroke="#000" stroke-width="3.3"/><path d="M755 273.5H839.6" stroke="#0072BD" stroke-width="3.9"/><path d="M791.75 267.25h12.5v12.5h-12.5z" stroke="#0072BD" stroke-width="3.9" fill="none"/><text class="t" x="844.7" y="278.5">q=3/8</text><path d="M755 307.6H839.6" stroke="#D95319" stroke-width="3.9"/><path d="M798 296.6v22M787 307.6h22M789.8 299.4l16.4 16.4M789.8 315.8l16.4 -16.4" stroke="#D95319" stroke-width="3.9" fill="none"/><text class="t" x="844.7" y="312.6">q=1/2</text><path d="M755 341.1H839.6" stroke="#EDB120" stroke-width="3.9"/><path d="M798 331.1L805.4 341.1L798 351.1L790.6 341.1z" stroke="#EDB120" stroke-width="3.9" fill="none"/><text class="t" x="844.7" y="346.1">q=8/9</text></g>
<g><path d="M1264.48 10.8V687.8M1407.27 10.8V687.8M1550.05 10.8V687.8M1692.83 10.8V687.8M1835.62 10.8V687.8M1121.7 603.17H1978.4M1121.7 518.55H1978.4M1121.7 433.92H1978.4M1121.7 349.3H1978.4M1121.7 264.67H1978.4M1121.7 180.05H1978.4M1121.7 95.42H1978.4" stroke="#dddddd" stroke-width="2.8" fill="none"/><path d="M1264.48 687.8v-10M1264.48 10.8v10M1407.27 687.8v-10M1407.27 10.8v10M1550.05 687.8v-10M1550.05 10.8v10M1692.83 687.8v-10M1692.83 10.8v10M1835.62 687.8v-10M1835.62 10.8v10M1121.7 603.17h10M1978.4 603.17h-10M1121.7 518.55h10M1978.4 518.55h-10M1121.7 433.92h10M1978.4 433.92h-10M1121.7 349.3h10M1978.4 349.3h-10M1121.7 264.67h10M1978.4 264.67h-10M1121.7 180.05h10M1978.4 180.05h-10M1121.7 95.42h10M1978.4 95.42h-10" stroke="#000" stroke-width="3.3" fill="none"/><rect x="1121.7" y="10.8" width="856.7" height="677" stroke="#000" stroke-width="3.3" fill="none"/><path d="M1128.84 45.07 L1135.98 35.02 L1143.12 31.26 L1150.26 29.84 L1157.4 29.31 L1164.54 29.11 L1171.67 29.04 L1178.81 29.01 L1185.95 29 L1193.09 29 L1200.23 29 L1207.37 28.99 L1214.51 28.99 L1221.65 28.99 L1228.79 28.99 L1235.93 28.99 L1243.07 28.99 L1250.2 28.99 L1257.34 28.99 L1264.48 28.99 L1271.62 28.99 L1278.76 28.99 L1285.9 28.99 L1293.04 28.99 L1300.18 28.99 L1307.32 28.99 L1314.46 28.99 L1321.6 28.99 L1328.74 28.99 L1335.88 28.99 L1343.01 28.99 L1350.15 28.99 L1357.29 28.99 L1364.43 28.99 L1371.57 28.99 L1378.71 28.99 L1385.85 28.99 L1392.99 28.99 L1400.13 28.99 L1407.27 28.99 L1414.41 28.99 L1421.55 28.99 L1428.68 28.99 L1435.82 28.99 L1442.96 28.99 L1450.1 28.99 L1457.24 28.99 L1464.38 28.99 L1471.52 28.99 L1478.66 28.99 L1485.8 28.99 L1492.94 28.99 L1500.08 28.99 L1507.22 28.99 L1514.35 28.99 L1521.49 28.99 L1528.63 28.99 L1535.77 28.99 L1542.91 28.99 L1550.05 28.99 L1557.19 28.99 L1564.33 28.99 L1571.47 28.99 L1578.61 28.99 L1585.75 28.99 L1592.89 28.99 L1600.02 28.99 L1607.16 28.99 L1614.3 28.99 L1621.44 28.99 L1628.58 28.99 L1635.72 28.99 L1642.86 28.99 L1650 28.99 L1657.14 28.99 L1664.28 28.99 L1671.42 28.99 L1678.56 28.99 L1685.69 28.99 L1692.83 28.99 L1699.97 28.99 L1707.11 28.99 L1714.25 28.99 L1721.39 28.99 L1728.53 28.99 L1735.67 28.99 L1742.81 28.99 L1749.95 28.99 L1757.09 28.99 L1764.22 28.99 L1771.36 28.99 L1778.5 28.99 L1785.64 28.99 L1792.78 28.99 L1799.92 28.99 L1807.06 28.99 L1814.2 28.99 L1821.34 28.99 L1828.48 28.99 L1835.62 28.99 L1842.76 28.99 L1849.89 28.99 L1857.03 28.99 L1864.17 28.99 L1871.31 28.99 L1878.45 28.99 L1885.59 28.99 L1892.73 28.99 L1899.87 28.99 L1907.01 28.99 L1914.15 28.99 L1921.29 28.99 L1928.43 28.99 L1935.57 28.99 L1942.7 28.99 L1949.84 28.99 L1956.98 28.99 L1964.12 28.99 L1971.26 28.99 L1978.4 28.99" stroke="#0072BD" stroke-width="3.9" fill="none" stroke-linejoin="round"/><path d="M1122.69 38.92h12.3v12.3h-12.3zM1129.83 28.87h12.3v12.3h-12.3zM1136.97 25.11h12.3v12.3h-12.3zM1144.11 23.69h12.3v12.3h-12.3zM1151.25 23.16h12.3v12.3h-12.3zM1158.38 22.96h12.3v12.3h-12.3zM1165.52 22.89h12.3v12.3h-12.3zM1172.66 22.86h12.3v12.3h-12.3zM1179.8 22.85h12.3v12.3h-12.3zM1186.94 22.85h12.3v12.3h-12.3zM1194.08 22.85h12.3v12.3h-12.3zM1201.22 22.84h12.3v12.3h-12.3zM1208.36 22.84h12.3v12.3h-12.3zM1215.5 22.84h12.3v12.3h-12.3zM1222.64 22.84h12.3v12.3h-12.3zM1229.78 22.84h12.3v12.3h-12.3zM1236.92 22.84h12.3v12.3h-12.3zM1244.05 22.84h12.3v12.3h-12.3zM1251.19 22.84h12.3v12.3h-12.3zM1258.33 22.84h12.3v12.3h-12.3zM1265.47 22.84h12.3v12.3h-12.3zM1272.61 22.84h12.3v12.3h-12.3zM1279.75 22.84h12.3v12.3h-12.3zM1286.89 22.84h12.3v12.3h-12.3zM1294.03 22.84h12.3v12.3h-12.3zM1301.17 22.84h12.3v12.3h-12.3zM1308.31 22.84h12.3v12.3h-12.3zM1315.45 22.84h12.3v12.3h-12.3zM1322.59 22.84h12.3v12.3h-12.3zM1329.72 22.84h12.3v12.3h-12.3zM1336.86 22.84h12.3v12.3h-12.3zM1344 22.84h12.3v12.3h-12.3zM1351.14 22.84h12.3v12.3h-12.3zM1358.28 22.84h12.3v12.3h-12.3zM1365.42 22.84h12.3v12.3h-12.3zM1372.56 22.84h12.3v12.3h-12.3zM1379.7 22.84h12.3v12.3h-12.3zM1386.84 22.84h12.3v12.3h-12.3zM1393.98 22.84h12.3v12.3h-12.3zM1401.12 22.84h12.3v12.3h-12.3zM1408.26 22.84h12.3v12.3h-12.3zM1415.39 22.84h12.3v12.3h-12.3zM1422.53 22.84h12.3v12.3h-12.3zM1429.67 22.84h12.3v12.3h-12.3zM1436.81 22.84h12.3v12.3h-12.3zM1443.95 22.84h12.3v12.3h-12.3zM1451.09 22.84h12.3v12.3h-12.3zM1458.23 22.84h12.3v12.3h-12.3zM1465.37 22.84h12.3v12.3h-12.3zM1472.51 22.84h12.3v12.3h-12.3zM1479.65 22.84h12.3v12.3h-12.3zM1486.79 22.84h12.3v12.3h-12.3zM1493.93 22.84h12.3v12.3h-12.3zM1501.07 22.84h12.3v12.3h-12.3zM1508.2 22.84h12.3v12.3h-12.3zM1515.34 22.84h12.3v12.3h-12.3zM1522.48 22.84h12.3v12.3h-12.3zM1529.62 22.84h12.3v12.3h-12.3zM1536.76 22.84h12.3v12.3h-12.3zM1543.9 22.84h12.3v12.3h-12.3zM1551.04 22.84h12.3v12.3h-12.3zM1558.18 22.84h12.3v12.3h-12.3zM1565.32 22.84h12.3v12.3h-12.3zM1572.46 22.84h12.3v12.3h-12.3zM1579.6 22.84h12.3v12.3h-12.3zM1586.74 22.84h12.3v12.3h-12.3zM1593.87 22.84h12.3v12.3h-12.3zM1601.01 22.84h12.3v12.3h-12.3zM1608.15 22.84h12.3v12.3h-12.3zM1615.29 22.84h12.3v12.3h-12.3zM1622.43 22.84h12.3v12.3h-12.3zM1629.57 22.84h12.3v12.3h-12.3zM1636.71 22.84h12.3v12.3h-12.3zM1643.85 22.84h12.3v12.3h-12.3zM1650.99 22.84h12.3v12.3h-12.3zM1658.13 22.84h12.3v12.3h-12.3zM1665.27 22.84h12.3v12.3h-12.3zM1672.4 22.84h12.3v12.3h-12.3zM1679.54 22.84h12.3v12.3h-12.3zM1686.68 22.84h12.3v12.3h-12.3zM1693.82 22.84h12.3v12.3h-12.3zM1700.96 22.84h12.3v12.3h-12.3zM1708.1 22.84h12.3v12.3h-12.3zM1715.24 22.84h12.3v12.3h-12.3zM1722.38 22.84h12.3v12.3h-12.3zM1729.52 22.84h12.3v12.3h-12.3zM1736.66 22.84h12.3v12.3h-12.3zM1743.8 22.84h12.3v12.3h-12.3zM1750.94 22.84h12.3v12.3h-12.3zM1758.07 22.84h12.3v12.3h-12.3zM1765.21 22.84h12.3v12.3h-12.3zM1772.35 22.84h12.3v12.3h-12.3zM1779.49 22.84h12.3v12.3h-12.3zM1786.63 22.84h12.3v12.3h-12.3zM1793.77 22.84h12.3v12.3h-12.3zM1800.91 22.84h12.3v12.3h-12.3zM1808.05 22.84h12.3v12.3h-12.3zM1815.19 22.84h12.3v12.3h-12.3zM1822.33 22.84h12.3v12.3h-12.3zM1829.47 22.84h12.3v12.3h-12.3zM1836.61 22.84h12.3v12.3h-12.3zM1843.74 22.84h12.3v12.3h-12.3zM1850.88 22.84h12.3v12.3h-12.3zM1858.02 22.84h12.3v12.3h-12.3zM1865.16 22.84h12.3v12.3h-12.3zM1872.3 22.84h12.3v12.3h-12.3zM1879.44 22.84h12.3v12.3h-12.3zM1886.58 22.84h12.3v12.3h-12.3zM1893.72 22.84h12.3v12.3h-12.3zM1900.86 22.84h12.3v12.3h-12.3zM1908 22.84h12.3v12.3h-12.3zM1915.14 22.84h12.3v12.3h-12.3zM1922.28 22.84h12.3v12.3h-12.3zM1929.41 22.84h12.3v12.3h-12.3zM1936.55 22.84h12.3v12.3h-12.3zM1943.69 22.84h12.3v12.3h-12.3zM1950.83 22.84h12.3v12.3h-12.3zM1957.97 22.84h12.3v12.3h-12.3zM1965.11 22.84h12.3v12.3h-12.3zM1972.25 22.84h12.3v12.3h-12.3z" stroke="#0072BD" stroke-width="4.1" fill="none" stroke-linejoin="round"/><path d="M1128.84 196.13 L1135.98 179.63 L1143.12 171.38 L1150.26 167.25 L1157.4 165.19 L1164.54 164.16 L1171.67 163.64 L1178.81 163.38 L1185.95 163.25 L1193.09 163.19 L1200.23 163.16 L1207.37 163.14 L1214.51 163.13 L1221.65 163.13 L1228.79 163.13 L1235.93 163.13 L1243.07 163.13 L1250.2 163.13 L1257.34 163.13 L1264.48 163.13 L1271.62 163.13 L1278.76 163.13 L1285.9 163.13 L1293.04 163.13 L1300.18 163.13 L1307.32 163.13 L1314.46 163.13 L1321.6 163.13 L1328.74 163.13 L1335.88 163.13 L1343.01 163.13 L1350.15 163.13 L1357.29 163.13 L1364.43 163.13 L1371.57 163.13 L1378.71 163.13 L1385.85 163.13 L1392.99 163.13 L1400.13 163.13 L1407.27 163.13 L1414.41 163.13 L1421.55 163.13 L1428.68 163.13 L1435.82 163.13 L1442.96 163.13 L1450.1 163.13 L1457.24 163.13 L1464.38 163.13 L1471.52 163.13 L1478.66 163.12 L1485.8 163.12 L1492.94 163.12 L1500.08 163.12 L1507.22 163.12 L1514.35 163.12 L1521.49 163.12 L1528.63 163.12 L1535.77 163.12 L1542.91 163.12 L1550.05 163.12 L1557.19 163.12 L1564.33 163.12 L1571.47 163.12 L1578.61 163.12 L1585.75 163.12 L1592.89 163.12 L1600.02 163.12 L1607.16 163.12 L1614.3 163.12 L1621.44 163.12 L1628.58 163.12 L1635.72 163.12 L1642.86 163.12 L1650 163.12 L1657.14 163.12 L1664.28 163.12 L1671.42 163.12 L1678.56 163.12 L1685.69 163.12 L1692.83 163.12 L1699.97 163.12 L1707.11 163.12 L1714.25 163.12 L1721.39 163.12 L1728.53 163.12 L1735.67 163.12 L1742.81 163.12 L1749.95 163.12 L1757.09 163.12 L1764.22 163.12 L1771.36 163.12 L1778.5 163.12 L1785.64 163.12 L1792.78 163.12 L1799.92 163.12 L1807.06 163.12 L1814.2 163.12 L1821.34 163.12 L1828.48 163.12 L1835.62 163.12 L1842.76 163.12 L1849.89 163.12 L1857.03 163.12 L1864.17 163.12 L1871.31 163.12 L1878.45 163.12 L1885.59 163.12 L1892.73 163.12 L1899.87 163.12 L1907.01 163.12 L1914.15 163.12 L1921.29 163.12 L1928.43 163.12 L1935.57 163.12 L1942.7 163.12 L1949.84 163.12 L1956.98 163.12 L1964.12 163.12 L1971.26 163.12 L1978.4 163.12" stroke="#D95319" stroke-width="3.9" fill="none" stroke-linejoin="round"/><path d="M1128.84 187.03v18.2M1119.74 196.13h18.2M1122.34 189.63l13 13M1122.34 202.63l13 -13M1135.98 170.53v18.2M1126.88 179.63h18.2M1129.48 173.13l13 13M1129.48 186.13l13 -13M1143.12 162.28v18.2M1134.02 171.38h18.2M1136.62 164.88l13 13M1136.62 177.88l13 -13M1150.26 158.15v18.2M1141.16 167.25h18.2M1143.76 160.75l13 13M1143.76 173.75l13 -13M1157.4 156.09v18.2M1148.3 165.19h18.2M1150.9 158.69l13 13M1150.9 171.69l13 -13M1164.54 155.06v18.2M1155.44 164.16h18.2M1158.04 157.66l13 13M1158.04 170.66l13 -13M1171.67 154.54v18.2M1162.57 163.64h18.2M1165.17 157.14l13 13M1165.17 170.14l13 -13M1178.81 154.28v18.2M1169.71 163.38h18.2M1172.31 156.88l13 13M1172.31 169.88l13 -13M1185.95 154.15v18.2M1176.85 163.25h18.2M1179.45 156.75l13 13M1179.45 169.75l13 -13M1193.09 154.09v18.2M1183.99 163.19h18.2M1186.59 156.69l13 13M1186.59 169.69l13 -13M1200.23 154.06v18.2M1191.13 163.16h18.2M1193.73 156.66l13 13M1193.73 169.66l13 -13M1207.37 154.04v18.2M1198.27 163.14h18.2M1200.87 156.64l13 13M1200.87 169.64l13 -13M1214.51 154.03v18.2M1205.41 163.13h18.2M1208.01 156.63l13 13M1208.01 169.63l13 -13M1221.65 154.03v18.2M1212.55 163.13h18.2M1215.15 156.63l13 13M1215.15 169.63l13 -13M1228.79 154.03v18.2M1219.69 163.13h18.2M1222.29 156.63l13 13M1222.29 169.63l13 -13M1235.93 154.03v18.2M1226.83 163.13h18.2M1229.43 156.63l13 13M1229.43 169.63l13 -13M1243.07 154.03v18.2M1233.97 163.13h18.2M1236.57 156.63l13 13M1236.57 169.63l13 -13M1250.2 154.03v18.2M1241.11 163.13h18.2M1243.7 156.63l13 13M1243.7 169.63l13 -13M1257.34 154.03v18.2M1248.24 163.13h18.2M1250.84 156.63l13 13M1250.84 169.63l13 -13M1264.48 154.03v18.2M1255.38 163.13h18.2M1257.98 156.63l13 13M1257.98 169.63l13 -13M1271.62 154.03v18.2M1262.52 163.13h18.2M1265.12 156.63l13 13M1265.12 169.63l13 -13M1278.76 154.03v18.2M1269.66 163.13h18.2M1272.26 156.63l13 13M1272.26 169.63l13 -13M1285.9 154.03v18.2M1276.8 163.13h18.2M1279.4 156.63l13 13M1279.4 169.63l13 -13M1293.04 154.03v18.2M1283.94 163.13h18.2M1286.54 156.63l13 13M1286.54 169.63l13 -13M1300.18 154.03v18.2M1291.08 163.13h18.2M1293.68 156.63l13 13M1293.68 169.63l13 -13M1307.32 154.03v18.2M1298.22 163.13h18.2M1300.82 156.63l13 13M1300.82 169.63l13 -13M1314.46 154.03v18.2M1305.36 163.13h18.2M1307.96 156.63l13 13M1307.96 169.63l13 -13M1321.6 154.03v18.2M1312.5 163.13h18.2M1315.1 156.63l13 13M1315.1 169.63l13 -13M1328.74 154.03v18.2M1319.64 163.13h18.2M1322.24 156.63l13 13M1322.24 169.63l13 -13M1335.88 154.03v18.2M1326.78 163.13h18.2M1329.38 156.63l13 13M1329.38 169.63l13 -13M1343.01 154.03v18.2M1333.91 163.13h18.2M1336.51 156.63l13 13M1336.51 169.63l13 -13M1350.15 154.03v18.2M1341.05 163.13h18.2M1343.65 156.63l13 13M1343.65 169.63l13 -13M1357.29 154.03v18.2M1348.19 163.13h18.2M1350.79 156.63l13 13M1350.79 169.63l13 -13M1364.43 154.03v18.2M1355.33 163.13h18.2M1357.93 156.63l13 13M1357.93 169.63l13 -13M1371.57 154.03v18.2M1362.47 163.13h18.2M1365.07 156.63l13 13M1365.07 169.63l13 -13M1378.71 154.03v18.2M1369.61 163.13h18.2M1372.21 156.63l13 13M1372.21 169.63l13 -13M1385.85 154.03v18.2M1376.75 163.13h18.2M1379.35 156.63l13 13M1379.35 169.63l13 -13M1392.99 154.03v18.2M1383.89 163.13h18.2M1386.49 156.63l13 13M1386.49 169.63l13 -13M1400.13 154.03v18.2M1391.03 163.13h18.2M1393.63 156.63l13 13M1393.63 169.63l13 -13M1407.27 154.03v18.2M1398.17 163.13h18.2M1400.77 156.63l13 13M1400.77 169.63l13 -13M1414.41 154.03v18.2M1405.31 163.13h18.2M1407.91 156.63l13 13M1407.91 169.63l13 -13M1421.55 154.03v18.2M1412.45 163.13h18.2M1415.05 156.63l13 13M1415.05 169.63l13 -13M1428.68 154.03v18.2M1419.58 163.13h18.2M1422.18 156.63l13 13M1422.18 169.63l13 -13M1435.82 154.03v18.2M1426.72 163.13h18.2M1429.32 156.63l13 13M1429.32 169.63l13 -13M1442.96 154.03v18.2M1433.86 163.13h18.2M1436.46 156.63l13 13M1436.46 169.63l13 -13M1450.1 154.03v18.2M1441 163.13h18.2M1443.6 156.63l13 13M1443.6 169.63l13 -13M1457.24 154.03v18.2M1448.14 163.13h18.2M1450.74 156.63l13 13M1450.74 169.63l13 -13M1464.38 154.03v18.2M1455.28 163.13h18.2M1457.88 156.63l13 13M1457.88 169.63l13 -13M1471.52 154.03v18.2M1462.42 163.13h18.2M1465.02 156.63l13 13M1465.02 169.63l13 -13M1478.66 154.03v18.2M1469.56 163.12h18.2M1472.16 156.62l13 13M1472.16 169.62l13 -13M1485.8 154.03v18.2M1476.7 163.12h18.2M1479.3 156.62l13 13M1479.3 169.62l13 -13M1492.94 154.03v18.2M1483.84 163.12h18.2M1486.44 156.62l13 13M1486.44 169.62l13 -13M1500.08 154.03v18.2M1490.98 163.12h18.2M1493.58 156.62l13 13M1493.58 169.62l13 -13M1507.22 154.03v18.2M1498.12 163.12h18.2M1500.72 156.62l13 13M1500.72 169.62l13 -13M1514.35 154.03v18.2M1505.25 163.12h18.2M1507.85 156.62l13 13M1507.85 169.62l13 -13M1521.49 154.03v18.2M1512.39 163.12h18.2M1514.99 156.62l13 13M1514.99 169.62l13 -13M1528.63 154.03v18.2M1519.53 163.12h18.2M1522.13 156.62l13 13M1522.13 169.62l13 -13M1535.77 154.03v18.2M1526.67 163.12h18.2M1529.27 156.62l13 13M1529.27 169.62l13 -13M1542.91 154.03v18.2M1533.81 163.12h18.2M1536.41 156.62l13 13M1536.41 169.62l13 -13M1550.05 154.03v18.2M1540.95 163.12h18.2M1543.55 156.62l13 13M1543.55 169.62l13 -13M1557.19 154.03v18.2M1548.09 163.12h18.2M1550.69 156.62l13 13M1550.69 169.62l13 -13M1564.33 154.03v18.2M1555.23 163.12h18.2M1557.83 156.62l13 13M1557.83 169.62l13 -13M1571.47 154.03v18.2M1562.37 163.12h18.2M1564.97 156.62l13 13M1564.97 169.62l13 -13M1578.61 154.03v18.2M1569.51 163.12h18.2M1572.11 156.62l13 13M1572.11 169.62l13 -13M1585.75 154.03v18.2M1576.65 163.12h18.2M1579.25 156.62l13 13M1579.25 169.62l13 -13M1592.89 154.03v18.2M1583.79 163.12h18.2M1586.39 156.62l13 13M1586.39 169.62l13 -13M1600.02 154.03v18.2M1590.92 163.12h18.2M1593.52 156.62l13 13M1593.52 169.62l13 -13M1607.16 154.03v18.2M1598.06 163.12h18.2M1600.66 156.62l13 13M1600.66 169.62l13 -13M1614.3 154.03v18.2M1605.2 163.12h18.2M1607.8 156.62l13 13M1607.8 169.62l13 -13M1621.44 154.03v18.2M1612.34 163.12h18.2M1614.94 156.62l13 13M1614.94 169.62l13 -13M1628.58 154.03v18.2M1619.48 163.12h18.2M1622.08 156.62l13 13M1622.08 169.62l13 -13M1635.72 154.03v18.2M1626.62 163.12h18.2M1629.22 156.62l13 13M1629.22 169.62l13 -13M1642.86 154.03v18.2M1633.76 163.12h18.2M1636.36 156.62l13 13M1636.36 169.62l13 -13M1650 154.03v18.2M1640.9 163.12h18.2M1643.5 156.62l13 13M1643.5 169.62l13 -13M1657.14 154.03v18.2M1648.04 163.12h18.2M1650.64 156.62l13 13M1650.64 169.62l13 -13M1664.28 154.03v18.2M1655.18 163.12h18.2M1657.78 156.62l13 13M1657.78 169.62l13 -13M1671.42 154.03v18.2M1662.32 163.12h18.2M1664.92 156.62l13 13M1664.92 169.62l13 -13M1678.56 154.03v18.2M1669.46 163.12h18.2M1672.06 156.62l13 13M1672.06 169.62l13 -13M1685.69 154.03v18.2M1676.59 163.12h18.2M1679.19 156.62l13 13M1679.19 169.62l13 -13M1692.83 154.03v18.2M1683.73 163.12h18.2M1686.33 156.62l13 13M1686.33 169.62l13 -13M1699.97 154.03v18.2M1690.87 163.12h18.2M1693.47 156.62l13 13M1693.47 169.62l13 -13M1707.11 154.03v18.2M1698.01 163.12h18.2M1700.61 156.62l13 13M1700.61 169.62l13 -13M1714.25 154.03v18.2M1705.15 163.12h18.2M1707.75 156.62l13 13M1707.75 169.62l13 -13M1721.39 154.03v18.2M1712.29 163.12h18.2M1714.89 156.62l13 13M1714.89 169.62l13 -13M1728.53 154.03v18.2M1719.43 163.12h18.2M1722.03 156.62l13 13M1722.03 169.62l13 -13M1735.67 154.03v18.2M1726.57 163.12h18.2M1729.17 156.62l13 13M1729.17 169.62l13 -13M1742.81 154.03v18.2M1733.71 163.12h18.2M1736.31 156.62l13 13M1736.31 169.62l13 -13M1749.95 154.03v18.2M1740.85 163.12h18.2M1743.45 156.62l13 13M1743.45 169.62l13 -13M1757.09 154.03v18.2M1747.99 163.12h18.2M1750.59 156.62l13 13M1750.59 169.62l13 -13M1764.22 154.03v18.2M1755.12 163.12h18.2M1757.72 156.62l13 13M1757.72 169.62l13 -13M1771.36 154.03v18.2M1762.26 163.12h18.2M1764.86 156.62l13 13M1764.86 169.62l13 -13M1778.5 154.03v18.2M1769.4 163.12h18.2M1772 156.62l13 13M1772 169.62l13 -13M1785.64 154.03v18.2M1776.54 163.12h18.2M1779.14 156.62l13 13M1779.14 169.62l13 -13M1792.78 154.03v18.2M1783.68 163.12h18.2M1786.28 156.62l13 13M1786.28 169.62l13 -13M1799.92 154.03v18.2M1790.82 163.12h18.2M1793.42 156.62l13 13M1793.42 169.62l13 -13M1807.06 154.03v18.2M1797.96 163.12h18.2M1800.56 156.62l13 13M1800.56 169.62l13 -13M1814.2 154.03v18.2M1805.1 163.12h18.2M1807.7 156.62l13 13M1807.7 169.62l13 -13M1821.34 154.03v18.2M1812.24 163.12h18.2M1814.84 156.62l13 13M1814.84 169.62l13 -13M1828.48 154.03v18.2M1819.38 163.12h18.2M1821.98 156.62l13 13M1821.98 169.62l13 -13M1835.62 154.03v18.2M1826.52 163.12h18.2M1829.12 156.62l13 13M1829.12 169.62l13 -13M1842.76 154.03v18.2M1833.66 163.12h18.2M1836.26 156.62l13 13M1836.26 169.62l13 -13M1849.89 154.03v18.2M1840.8 163.12h18.2M1843.39 156.62l13 13M1843.39 169.62l13 -13M1857.03 154.03v18.2M1847.93 163.12h18.2M1850.53 156.62l13 13M1850.53 169.62l13 -13M1864.17 154.03v18.2M1855.07 163.12h18.2M1857.67 156.62l13 13M1857.67 169.62l13 -13M1871.31 154.03v18.2M1862.21 163.12h18.2M1864.81 156.62l13 13M1864.81 169.62l13 -13M1878.45 154.03v18.2M1869.35 163.12h18.2M1871.95 156.62l13 13M1871.95 169.62l13 -13M1885.59 154.03v18.2M1876.49 163.12h18.2M1879.09 156.62l13 13M1879.09 169.62l13 -13M1892.73 154.03v18.2M1883.63 163.12h18.2M1886.23 156.62l13 13M1886.23 169.62l13 -13M1899.87 154.03v18.2M1890.77 163.12h18.2M1893.37 156.62l13 13M1893.37 169.62l13 -13M1907.01 154.03v18.2M1897.91 163.12h18.2M1900.51 156.62l13 13M1900.51 169.62l13 -13M1914.15 154.03v18.2M1905.05 163.12h18.2M1907.65 156.62l13 13M1907.65 169.62l13 -13M1921.29 154.03v18.2M1912.19 163.12h18.2M1914.79 156.62l13 13M1914.79 169.62l13 -13M1928.43 154.03v18.2M1919.33 163.12h18.2M1921.93 156.62l13 13M1921.93 169.62l13 -13M1935.57 154.03v18.2M1926.47 163.12h18.2M1929.07 156.62l13 13M1929.07 169.62l13 -13M1942.7 154.03v18.2M1933.6 163.12h18.2M1936.2 156.62l13 13M1936.2 169.62l13 -13M1949.84 154.03v18.2M1940.74 163.12h18.2M1943.34 156.62l13 13M1943.34 169.62l13 -13M1956.98 154.03v18.2M1947.88 163.12h18.2M1950.48 156.62l13 13M1950.48 169.62l13 -13M1964.12 154.03v18.2M1955.02 163.12h18.2M1957.62 156.62l13 13M1957.62 169.62l13 -13M1971.26 154.03v18.2M1962.16 163.12h18.2M1964.76 156.62l13 13M1964.76 169.62l13 -13M1978.4 154.03v18.2M1969.3 163.12h18.2M1971.9 156.62l13 13M1971.9 169.62l13 -13" stroke="#D95319" stroke-width="4.1" fill="none" stroke-linejoin="round"/><path d="M1128.84 609.94 L1135.98 605.67 L1143.12 601.86 L1150.26 598.48 L1157.4 595.48 L1164.54 592.81 L1171.67 590.43 L1178.81 588.32 L1185.95 586.45 L1193.09 584.78 L1200.23 583.3 L1207.37 581.98 L1214.51 580.81 L1221.65 579.77 L1228.79 578.84 L1235.93 578.02 L1243.07 577.29 L1250.2 576.64 L1257.34 576.06 L1264.48 575.55 L1271.62 575.09 L1278.76 574.69 L1285.9 574.33 L1293.04 574.01 L1300.18 573.72 L1307.32 573.47 L1314.46 573.24 L1321.6 573.04 L1328.74 572.86 L1335.88 572.71 L1343.01 572.57 L1350.15 572.44 L1357.29 572.33 L1364.43 572.23 L1371.57 572.14 L1378.71 572.06 L1385.85 572 L1392.99 571.93 L1400.13 571.88 L1407.27 571.83 L1414.41 571.79 L1421.55 571.75 L1428.68 571.71 L1435.82 571.68 L1442.96 571.66 L1450.1 571.63 L1457.24 571.61 L1464.38 571.59 L1471.52 571.58 L1478.66 571.56 L1485.8 571.55 L1492.94 571.54 L1500.08 571.52 L1507.22 571.52 L1514.35 571.51 L1521.49 571.5 L1528.63 571.49 L1535.77 571.49 L1542.91 571.48 L1550.05 571.48 L1557.19 571.47 L1564.33 571.47 L1571.47 571.47 L1578.61 571.46 L1585.75 571.46 L1592.89 571.46 L1600.02 571.46 L1607.16 571.46 L1614.3 571.45 L1621.44 571.45 L1628.58 571.45 L1635.72 571.45 L1642.86 571.45 L1650 571.45 L1657.14 571.45 L1664.28 571.45 L1671.42 571.45 L1678.56 571.45 L1685.69 571.44 L1692.83 571.44 L1699.97 571.44 L1707.11 571.44 L1714.25 571.44 L1721.39 571.44 L1728.53 571.44 L1735.67 571.44 L1742.81 571.44 L1749.95 571.44 L1757.09 571.44 L1764.22 571.44 L1771.36 571.44 L1778.5 571.44 L1785.64 571.44 L1792.78 571.44 L1799.92 571.44 L1807.06 571.44 L1814.2 571.44 L1821.34 571.44 L1828.48 571.44 L1835.62 571.44 L1842.76 571.44 L1849.89 571.44 L1857.03 571.44 L1864.17 571.44 L1871.31 571.44 L1878.45 571.44 L1885.59 571.44 L1892.73 571.44 L1899.87 571.44 L1907.01 571.44 L1914.15 571.44 L1921.29 571.44 L1928.43 571.44 L1935.57 571.44 L1942.7 571.44 L1949.84 571.44 L1956.98 571.44 L1964.12 571.44 L1971.26 571.44 L1978.4 571.44" stroke="#EDB120" stroke-width="3.9" fill="none" stroke-linejoin="round"/><path d="M1128.84 600.94L1136.84 609.94L1128.84 618.94L1120.84 609.94zM1135.98 596.67L1143.98 605.67L1135.98 614.67L1127.98 605.67zM1143.12 592.86L1151.12 601.86L1143.12 610.86L1135.12 601.86zM1150.26 589.48L1158.26 598.48L1150.26 607.48L1142.26 598.48zM1157.4 586.48L1165.4 595.48L1157.4 604.48L1149.4 595.48zM1164.54 583.81L1172.54 592.81L1164.54 601.81L1156.54 592.81zM1171.67 581.43L1179.67 590.43L1171.67 599.43L1163.67 590.43zM1178.81 579.32L1186.81 588.32L1178.81 597.32L1170.81 588.32zM1185.95 577.45L1193.95 586.45L1185.95 595.45L1177.95 586.45zM1193.09 575.78L1201.09 584.78L1193.09 593.78L1185.09 584.78zM1200.23 574.3L1208.23 583.3L1200.23 592.3L1192.23 583.3zM1207.37 572.98L1215.37 581.98L1207.37 590.98L1199.37 581.98zM1214.51 571.81L1222.51 580.81L1214.51 589.81L1206.51 580.81zM1221.65 570.77L1229.65 579.77L1221.65 588.77L1213.65 579.77zM1228.79 569.84L1236.79 578.84L1228.79 587.84L1220.79 578.84zM1235.93 569.02L1243.93 578.02L1235.93 587.02L1227.93 578.02zM1243.07 568.29L1251.07 577.29L1243.07 586.29L1235.07 577.29zM1250.2 567.64L1258.2 576.64L1250.2 585.64L1242.2 576.64zM1257.34 567.06L1265.34 576.06L1257.34 585.06L1249.34 576.06zM1264.48 566.55L1272.48 575.55L1264.48 584.55L1256.48 575.55zM1271.62 566.09L1279.62 575.09L1271.62 584.09L1263.62 575.09zM1278.76 565.69L1286.76 574.69L1278.76 583.69L1270.76 574.69zM1285.9 565.33L1293.9 574.33L1285.9 583.33L1277.9 574.33zM1293.04 565.01L1301.04 574.01L1293.04 583.01L1285.04 574.01zM1300.18 564.72L1308.18 573.72L1300.18 582.72L1292.18 573.72zM1307.32 564.47L1315.32 573.47L1307.32 582.47L1299.32 573.47zM1314.46 564.24L1322.46 573.24L1314.46 582.24L1306.46 573.24zM1321.6 564.04L1329.6 573.04L1321.6 582.04L1313.6 573.04zM1328.74 563.86L1336.74 572.86L1328.74 581.86L1320.74 572.86zM1335.88 563.71L1343.88 572.71L1335.88 581.71L1327.88 572.71zM1343.01 563.57L1351.01 572.57L1343.01 581.57L1335.01 572.57zM1350.15 563.44L1358.15 572.44L1350.15 581.44L1342.15 572.44zM1357.29 563.33L1365.29 572.33L1357.29 581.33L1349.29 572.33zM1364.43 563.23L1372.43 572.23L1364.43 581.23L1356.43 572.23zM1371.57 563.14L1379.57 572.14L1371.57 581.14L1363.57 572.14zM1378.71 563.06L1386.71 572.06L1378.71 581.06L1370.71 572.06zM1385.85 563L1393.85 572L1385.85 581L1377.85 572zM1392.99 562.93L1400.99 571.93L1392.99 580.93L1384.99 571.93zM1400.13 562.88L1408.13 571.88L1400.13 580.88L1392.13 571.88zM1407.27 562.83L1415.27 571.83L1407.27 580.83L1399.27 571.83zM1414.41 562.79L1422.41 571.79L1414.41 580.79L1406.41 571.79zM1421.55 562.75L1429.55 571.75L1421.55 580.75L1413.55 571.75zM1428.68 562.71L1436.68 571.71L1428.68 580.71L1420.68 571.71zM1435.82 562.68L1443.82 571.68L1435.82 580.68L1427.82 571.68zM1442.96 562.66L1450.96 571.66L1442.96 580.66L1434.96 571.66zM1450.1 562.63L1458.1 571.63L1450.1 580.63L1442.1 571.63zM1457.24 562.61L1465.24 571.61L1457.24 580.61L1449.24 571.61zM1464.38 562.59L1472.38 571.59L1464.38 580.59L1456.38 571.59zM1471.52 562.58L1479.52 571.58L1471.52 580.58L1463.52 571.58zM1478.66 562.56L1486.66 571.56L1478.66 580.56L1470.66 571.56zM1485.8 562.55L1493.8 571.55L1485.8 580.55L1477.8 571.55zM1492.94 562.54L1500.94 571.54L1492.94 580.54L1484.94 571.54zM1500.08 562.52L1508.08 571.52L1500.08 580.52L1492.08 571.52zM1507.22 562.52L1515.22 571.52L1507.22 580.52L1499.22 571.52zM1514.35 562.51L1522.35 571.51L1514.35 580.51L1506.35 571.51zM1521.49 562.5L1529.49 571.5L1521.49 580.5L1513.49 571.5zM1528.63 562.49L1536.63 571.49L1528.63 580.49L1520.63 571.49zM1535.77 562.49L1543.77 571.49L1535.77 580.49L1527.77 571.49zM1542.91 562.48L1550.91 571.48L1542.91 580.48L1534.91 571.48zM1550.05 562.48L1558.05 571.48L1550.05 580.48L1542.05 571.48zM1557.19 562.47L1565.19 571.47L1557.19 580.47L1549.19 571.47zM1564.33 562.47L1572.33 571.47L1564.33 580.47L1556.33 571.47zM1571.47 562.47L1579.47 571.47L1571.47 580.47L1563.47 571.47zM1578.61 562.46L1586.61 571.46L1578.61 580.46L1570.61 571.46zM1585.75 562.46L1593.75 571.46L1585.75 580.46L1577.75 571.46zM1592.89 562.46L1600.89 571.46L1592.89 580.46L1584.89 571.46zM1600.02 562.46L1608.02 571.46L1600.02 580.46L1592.02 571.46zM1607.16 562.46L1615.16 571.46L1607.16 580.46L1599.16 571.46zM1614.3 562.45L1622.3 571.45L1614.3 580.45L1606.3 571.45zM1621.44 562.45L1629.44 571.45L1621.44 580.45L1613.44 571.45zM1628.58 562.45L1636.58 571.45L1628.58 580.45L1620.58 571.45zM1635.72 562.45L1643.72 571.45L1635.72 580.45L1627.72 571.45zM1642.86 562.45L1650.86 571.45L1642.86 580.45L1634.86 571.45zM1650 562.45L1658 571.45L1650 580.45L1642 571.45zM1657.14 562.45L1665.14 571.45L1657.14 580.45L1649.14 571.45zM1664.28 562.45L1672.28 571.45L1664.28 580.45L1656.28 571.45zM1671.42 562.45L1679.42 571.45L1671.42 580.45L1663.42 571.45zM1678.56 562.45L1686.56 571.45L1678.56 580.45L1670.56 571.45zM1685.69 562.44L1693.69 571.44L1685.69 580.44L1677.69 571.44zM1692.83 562.44L1700.83 571.44L1692.83 580.44L1684.83 571.44zM1699.97 562.44L1707.97 571.44L1699.97 580.44L1691.97 571.44zM1707.11 562.44L1715.11 571.44L1707.11 580.44L1699.11 571.44zM1714.25 562.44L1722.25 571.44L1714.25 580.44L1706.25 571.44zM1721.39 562.44L1729.39 571.44L1721.39 580.44L1713.39 571.44zM1728.53 562.44L1736.53 571.44L1728.53 580.44L1720.53 571.44zM1735.67 562.44L1743.67 571.44L1735.67 580.44L1727.67 571.44zM1742.81 562.44L1750.81 571.44L1742.81 580.44L1734.81 571.44zM1749.95 562.44L1757.95 571.44L1749.95 580.44L1741.95 571.44zM1757.09 562.44L1765.09 571.44L1757.09 580.44L1749.09 571.44zM1764.22 562.44L1772.22 571.44L1764.22 580.44L1756.22 571.44zM1771.36 562.44L1779.36 571.44L1771.36 580.44L1763.36 571.44zM1778.5 562.44L1786.5 571.44L1778.5 580.44L1770.5 571.44zM1785.64 562.44L1793.64 571.44L1785.64 580.44L1777.64 571.44zM1792.78 562.44L1800.78 571.44L1792.78 580.44L1784.78 571.44zM1799.92 562.44L1807.92 571.44L1799.92 580.44L1791.92 571.44zM1807.06 562.44L1815.06 571.44L1807.06 580.44L1799.06 571.44zM1814.2 562.44L1822.2 571.44L1814.2 580.44L1806.2 571.44zM1821.34 562.44L1829.34 571.44L1821.34 580.44L1813.34 571.44zM1828.48 562.44L1836.48 571.44L1828.48 580.44L1820.48 571.44zM1835.62 562.44L1843.62 571.44L1835.62 580.44L1827.62 571.44zM1842.76 562.44L1850.76 571.44L1842.76 580.44L1834.76 571.44zM1849.89 562.44L1857.89 571.44L1849.89 580.44L1841.89 571.44zM1857.03 562.44L1865.03 571.44L1857.03 580.44L1849.03 571.44zM1864.17 562.44L1872.17 571.44L1864.17 580.44L1856.17 571.44zM1871.31 562.44L1879.31 571.44L1871.31 580.44L1863.31 571.44zM1878.45 562.44L1886.45 571.44L1878.45 580.44L1870.45 571.44zM1885.59 562.44L1893.59 571.44L1885.59 580.44L1877.59 571.44zM1892.73 562.44L1900.73 571.44L1892.73 580.44L1884.73 571.44zM1899.87 562.44L1907.87 571.44L1899.87 580.44L1891.87 571.44zM1907.01 562.44L1915.01 571.44L1907.01 580.44L1899.01 571.44zM1914.15 562.44L1922.15 571.44L1914.15 580.44L1906.15 571.44zM1921.29 562.44L1929.29 571.44L1921.29 580.44L1913.29 571.44zM1928.43 562.44L1936.43 571.44L1928.43 580.44L1920.43 571.44zM1935.57 562.44L1943.57 571.44L1935.57 580.44L1927.57 571.44zM1942.7 562.44L1950.7 571.44L1942.7 580.44L1934.7 571.44zM1949.84 562.44L1957.84 571.44L1949.84 580.44L1941.84 571.44zM1956.98 562.44L1964.98 571.44L1956.98 580.44L1948.98 571.44zM1964.12 562.44L1972.12 571.44L1964.12 580.44L1956.12 571.44zM1971.26 562.44L1979.26 571.44L1971.26 580.44L1963.26 571.44zM1978.4 562.44L1986.4 571.44L1978.4 580.44L1970.4 571.44z" stroke="#EDB120" stroke-width="4.1" fill="none" stroke-linejoin="miter"/><text class="t" x="1105.6" y="698.6" text-anchor="end">0</text><text class="t" x="1105.6" y="613.97" text-anchor="end">0.02</text><text class="t" x="1105.6" y="529.35" text-anchor="end">0.04</text><text class="t" x="1105.6" y="444.72" text-anchor="end">0.06</text><text class="t" x="1105.6" y="360.1" text-anchor="end">0.08</text><text class="t" x="1105.6" y="275.47" text-anchor="end">0.1</text><text class="t" x="1105.6" y="190.85" text-anchor="end">0.12</text><text class="t" x="1105.6" y="106.22" text-anchor="end">0.14</text><text class="t" x="1105.6" y="21.6" text-anchor="end">0.16</text><text class="t" x="1121.7" y="725.8" text-anchor="middle">0</text><text class="t" x="1264.48" y="725.8" text-anchor="middle">20</text><text class="t" x="1407.27" y="725.8" text-anchor="middle">40</text><text class="t" x="1550.05" y="725.8" text-anchor="middle">60</text><text class="t" x="1692.83" y="725.8" text-anchor="middle">80</text><text class="t" x="1835.62" y="725.8" text-anchor="middle">100</text><text class="t" x="1978.4" y="725.8" text-anchor="middle">120</text><text class="m" font-size="100" stroke="#fff" stroke-width="0.98" transform="translate(1515.59 762.98) scale(0.4024 0.3570)">n</text><text class="m" font-size="100" stroke="#fff" stroke-width="0.98" transform="translate(1535.99 762.98) scale(0.4024 0.3570)">,</text><text class="m" font-size="100" stroke="#fff" stroke-width="0.98" transform="translate(1559.25 762.98) scale(0.3000 0.3570)">q</text><text class="m" style="font-family:'Noto Serif CJK SC',serif;font-style:normal;font-weight:300" font-size="100" stroke="#fff" stroke-width="0.00" transform="translate(1033.56 372.6) rotate(-90) scale(0.2914 0.2607) skewX(-14)">μ</text><text class="m" style="font-family:'Noto Serif CJK SC',serif;font-style:normal;font-weight:300" font-size="100" stroke="#fff" stroke-width="0.00" transform="translate(1032.34 351.53) rotate(-90) scale(0.2911 0.2429) skewX(-14)">λ</text><rect x="1724" y="228" width="171.3" height="108.1" fill="#fff" stroke="#000" stroke-width="3.3"/><path d="M1737 249H1820.6" stroke="#0072BD" stroke-width="3.9"/><path d="M1773.75 242.75h12.5v12.5h-12.5z" stroke="#0072BD" stroke-width="3.9" fill="none"/><text class="t" x="1825.7" y="253.5">q=3/8</text><path d="M1737 282H1820.6" stroke="#D95319" stroke-width="3.9"/><path d="M1780 271v22M1769 282h22M1771.8 273.8l16.4 16.4M1771.8 290.2l16.4 -16.4" stroke="#D95319" stroke-width="3.9" fill="none"/><text class="t" x="1825.7" y="286.5">q=1/2</text><path d="M1737 315H1820.6" stroke="#EDB120" stroke-width="3.9"/><path d="M1780 305L1787.4 315L1780 325L1772.6 315z" stroke="#EDB120" stroke-width="3.9" fill="none"/><text class="t" x="1825.7" y="319.5">q=8/9</text></g>
<g><path d="M240.75 822.4V1509.3M385.5 822.4V1509.3M530.25 822.4V1509.3M675 822.4V1509.3M819.75 822.4V1509.3M96 1280.33H964.5M96 1051.37H964.5" stroke="#dddddd" stroke-width="2.8" fill="none"/><path d="M240.75 1509.3v-10M240.75 822.4v10M385.5 1509.3v-10M385.5 822.4v10M530.25 1509.3v-10M530.25 822.4v10M675 1509.3v-10M675 822.4v10M819.75 1509.3v-10M819.75 822.4v10M96 1280.33h10M964.5 1280.33h-10M96 1051.37h10M964.5 1051.37h-10" stroke="#000" stroke-width="3.3" fill="none"/><rect x="96" y="822.4" width="868.5" height="686.9" stroke="#000" stroke-width="3.3" fill="none"/><path d="M103.24 893.1 L110.47 871.84 L117.71 863.87 L124.95 860.87 L132.19 859.75 L139.43 859.33 L146.66 859.18 L153.9 859.12 L161.14 859.09 L168.38 859.09 L175.61 859.08 L182.85 859.08 L190.09 859.08 L197.32 859.08 L204.56 859.08 L211.8 859.08 L219.04 859.08 L226.28 859.08 L233.51 859.08 L240.75 859.08 L247.99 859.08 L255.22 859.08 L262.46 859.08 L269.7 859.08 L276.94 859.08 L284.18 859.08 L291.41 859.08 L298.65 859.08 L305.89 859.08 L313.12 859.08 L320.36 859.08 L327.6 859.08 L334.84 859.08 L342.07 859.08 L349.31 859.08 L356.55 859.08 L363.79 859.08 L371.02 859.08 L378.26 859.08 L385.5 859.08 L392.74 859.08 L399.98 859.08 L407.21 859.08 L414.45 859.08 L421.69 859.08 L428.93 859.08 L436.16 859.08 L443.4 859.08 L450.64 859.08 L457.88 859.08 L465.11 859.08 L472.35 859.08 L479.59 859.08 L486.82 859.08 L494.06 859.08 L501.3 859.08 L508.54 859.08 L515.77 859.08 L523.01 859.08 L530.25 859.08 L537.49 859.08 L544.73 859.08 L551.96 859.08 L559.2 859.08 L566.44 859.08 L573.67 859.08 L580.91 859.08 L588.15 859.08 L595.39 859.08 L602.62 859.08 L609.86 859.08 L617.1 859.08 L624.34 859.08 L631.58 859.08 L638.81 859.08 L646.05 859.08 L653.29 859.08 L660.52 859.08 L667.76 859.08 L675 859.08 L682.24 859.08 L689.48 859.08 L696.71 859.08 L703.95 859.08 L711.19 859.08 L718.42 859.08 L725.66 859.08 L732.9 859.08 L740.14 859.08 L747.38 859.08 L754.61 859.08 L761.85 859.08 L769.09 859.08 L776.33 859.08 L783.56 859.08 L790.8 859.08 L798.04 859.08 L805.27 859.08 L812.51 859.08 L819.75 859.08 L826.99 859.08 L834.23 859.08 L841.46 859.08 L848.7 859.08 L855.94 859.08 L863.17 859.08 L870.41 859.08 L877.65 859.08 L884.89 859.08 L892.12 859.08 L899.36 859.08 L906.6 859.08 L913.84 859.08 L921.08 859.08 L928.31 859.08 L935.55 859.08 L942.79 859.08 L950.02 859.08 L957.26 859.08 L964.5 859.08" stroke="#0072BD" stroke-width="3.9" fill="none" stroke-linejoin="round"/><path d="M97.09 886.95h12.3v12.3h-12.3zM104.32 865.69h12.3v12.3h-12.3zM111.56 857.72h12.3v12.3h-12.3zM118.8 854.72h12.3v12.3h-12.3zM126.04 853.6h12.3v12.3h-12.3zM133.28 853.18h12.3v12.3h-12.3zM140.51 853.03h12.3v12.3h-12.3zM147.75 852.97h12.3v12.3h-12.3zM154.99 852.94h12.3v12.3h-12.3zM162.22 852.94h12.3v12.3h-12.3zM169.46 852.93h12.3v12.3h-12.3zM176.7 852.93h12.3v12.3h-12.3zM183.94 852.93h12.3v12.3h-12.3zM191.17 852.93h12.3v12.3h-12.3zM198.41 852.93h12.3v12.3h-12.3zM205.65 852.93h12.3v12.3h-12.3zM212.89 852.93h12.3v12.3h-12.3zM220.12 852.93h12.3v12.3h-12.3zM227.36 852.93h12.3v12.3h-12.3zM234.6 852.93h12.3v12.3h-12.3zM241.84 852.93h12.3v12.3h-12.3zM249.07 852.93h12.3v12.3h-12.3zM256.31 852.93h12.3v12.3h-12.3zM263.55 852.93h12.3v12.3h-12.3zM270.79 852.93h12.3v12.3h-12.3zM278.03 852.93h12.3v12.3h-12.3zM285.26 852.93h12.3v12.3h-12.3zM292.5 852.93h12.3v12.3h-12.3zM299.74 852.93h12.3v12.3h-12.3zM306.98 852.93h12.3v12.3h-12.3zM314.21 852.93h12.3v12.3h-12.3zM321.45 852.93h12.3v12.3h-12.3zM328.69 852.93h12.3v12.3h-12.3zM335.93 852.93h12.3v12.3h-12.3zM343.16 852.93h12.3v12.3h-12.3zM350.4 852.93h12.3v12.3h-12.3zM357.64 852.93h12.3v12.3h-12.3zM364.88 852.93h12.3v12.3h-12.3zM372.11 852.93h12.3v12.3h-12.3zM379.35 852.93h12.3v12.3h-12.3zM386.59 852.93h12.3v12.3h-12.3zM393.83 852.93h12.3v12.3h-12.3zM401.06 852.93h12.3v12.3h-12.3zM408.3 852.93h12.3v12.3h-12.3zM415.54 852.93h12.3v12.3h-12.3zM422.78 852.93h12.3v12.3h-12.3zM430.01 852.93h12.3v12.3h-12.3zM437.25 852.93h12.3v12.3h-12.3zM444.49 852.93h12.3v12.3h-12.3zM451.73 852.93h12.3v12.3h-12.3zM458.96 852.93h12.3v12.3h-12.3zM466.2 852.93h12.3v12.3h-12.3zM473.44 852.93h12.3v12.3h-12.3zM480.68 852.93h12.3v12.3h-12.3zM487.91 852.93h12.3v12.3h-12.3zM495.15 852.93h12.3v12.3h-12.3zM502.39 852.93h12.3v12.3h-12.3zM509.62 852.93h12.3v12.3h-12.3zM516.86 852.93h12.3v12.3h-12.3zM524.1 852.93h12.3v12.3h-12.3zM531.34 852.93h12.3v12.3h-12.3zM538.58 852.93h12.3v12.3h-12.3zM545.81 852.93h12.3v12.3h-12.3zM553.05 852.93h12.3v12.3h-12.3zM560.29 852.93h12.3v12.3h-12.3zM567.52 852.93h12.3v12.3h-12.3zM574.76 852.93h12.3v12.3h-12.3zM582 852.93h12.3v12.3h-12.3zM589.24 852.93h12.3v12.3h-12.3zM596.48 852.93h12.3v12.3h-12.3zM603.71 852.93h12.3v12.3h-12.3zM610.95 852.93h12.3v12.3h-12.3zM618.19 852.93h12.3v12.3h-12.3zM625.43 852.93h12.3v12.3h-12.3zM632.66 852.93h12.3v12.3h-12.3zM639.9 852.93h12.3v12.3h-12.3zM647.14 852.93h12.3v12.3h-12.3zM654.38 852.93h12.3v12.3h-12.3zM661.61 852.93h12.3v12.3h-12.3zM668.85 852.93h12.3v12.3h-12.3zM676.09 852.93h12.3v12.3h-12.3zM683.33 852.93h12.3v12.3h-12.3zM690.56 852.93h12.3v12.3h-12.3zM697.8 852.93h12.3v12.3h-12.3zM705.04 852.93h12.3v12.3h-12.3zM712.27 852.93h12.3v12.3h-12.3zM719.51 852.93h12.3v12.3h-12.3zM726.75 852.93h12.3v12.3h-12.3zM733.99 852.93h12.3v12.3h-12.3zM741.23 852.93h12.3v12.3h-12.3zM748.46 852.93h12.3v12.3h-12.3zM755.7 852.93h12.3v12.3h-12.3zM762.94 852.93h12.3v12.3h-12.3zM770.18 852.93h12.3v12.3h-12.3zM777.41 852.93h12.3v12.3h-12.3zM784.65 852.93h12.3v12.3h-12.3zM791.89 852.93h12.3v12.3h-12.3zM799.12 852.93h12.3v12.3h-12.3zM806.36 852.93h12.3v12.3h-12.3zM813.6 852.93h12.3v12.3h-12.3zM820.84 852.93h12.3v12.3h-12.3zM828.08 852.93h12.3v12.3h-12.3zM835.31 852.93h12.3v12.3h-12.3zM842.55 852.93h12.3v12.3h-12.3zM849.79 852.93h12.3v12.3h-12.3zM857.02 852.93h12.3v12.3h-12.3zM864.26 852.93h12.3v12.3h-12.3zM871.5 852.93h12.3v12.3h-12.3zM878.74 852.93h12.3v12.3h-12.3zM885.98 852.93h12.3v12.3h-12.3zM893.21 852.93h12.3v12.3h-12.3zM900.45 852.93h12.3v12.3h-12.3zM907.69 852.93h12.3v12.3h-12.3zM914.93 852.93h12.3v12.3h-12.3zM922.16 852.93h12.3v12.3h-12.3zM929.4 852.93h12.3v12.3h-12.3zM936.64 852.93h12.3v12.3h-12.3zM943.88 852.93h12.3v12.3h-12.3zM951.11 852.93h12.3v12.3h-12.3zM958.35 852.93h12.3v12.3h-12.3z" stroke="#0072BD" stroke-width="4.1" fill="none" stroke-linejoin="round"/><path d="M103.24 1052.74 L110.47 1020.91 L117.71 1005 L124.95 997.04 L132.19 993.07 L139.43 991.08 L146.66 990.08 L153.9 989.59 L161.14 989.34 L168.38 989.21 L175.61 989.15 L182.85 989.12 L190.09 989.1 L197.32 989.1 L204.56 989.09 L211.8 989.09 L219.04 989.09 L226.28 989.09 L233.51 989.09 L240.75 989.09 L247.99 989.09 L255.22 989.09 L262.46 989.09 L269.7 989.09 L276.94 989.09 L284.18 989.09 L291.41 989.09 L298.65 989.09 L305.89 989.09 L313.12 989.09 L320.36 989.09 L327.6 989.09 L334.84 989.09 L342.07 989.09 L349.31 989.09 L356.55 989.09 L363.79 989.09 L371.02 989.09 L378.26 989.09 L385.5 989.09 L392.74 989.09 L399.98 989.09 L407.21 989.09 L414.45 989.09 L421.69 989.09 L428.93 989.09 L436.16 989.09 L443.4 989.09 L450.64 989.09 L457.88 989.09 L465.11 989.09 L472.35 989.09 L479.59 989.09 L486.82 989.09 L494.06 989.09 L501.3 989.09 L508.54 989.09 L515.77 989.09 L523.01 989.09 L530.25 989.09 L537.49 989.09 L544.73 989.09 L551.96 989.09 L559.2 989.09 L566.44 989.09 L573.67 989.09 L580.91 989.09 L588.15 989.09 L595.39 989.09 L602.62 989.09 L609.86 989.09 L617.1 989.09 L624.34 989.09 L631.58 989.09 L638.81 989.09 L646.05 989.09 L653.29 989.09 L660.52 989.09 L667.76 989.09 L675 989.09 L682.24 989.09 L689.48 989.09 L696.71 989.09 L703.95 989.09 L711.19 989.09 L718.42 989.09 L725.66 989.09 L732.9 989.09 L740.14 989.09 L747.38 989.09 L754.61 989.09 L761.85 989.09 L769.09 989.09 L776.33 989.09 L783.56 989.09 L790.8 989.09 L798.04 989.09 L805.27 989.09 L812.51 989.09 L819.75 989.09 L826.99 989.09 L834.23 989.09 L841.46 989.09 L848.7 989.09 L855.94 989.09 L863.17 989.09 L870.41 989.09 L877.65 989.09 L884.89 989.09 L892.12 989.09 L899.36 989.09 L906.6 989.09 L913.84 989.09 L921.08 989.09 L928.31 989.09 L935.55 989.09 L942.79 989.09 L950.02 989.09 L957.26 989.09 L964.5 989.09" stroke="#D95319" stroke-width="3.9" fill="none" stroke-linejoin="round"/><path d="M103.24 1043.64v18.2M94.14 1052.74h18.2M96.74 1046.24l13 13M96.74 1059.24l13 -13M110.47 1011.81v18.2M101.38 1020.91h18.2M103.97 1014.41l13 13M103.97 1027.41l13 -13M117.71 995.9v18.2M108.61 1005h18.2M111.21 998.5l13 13M111.21 1011.5l13 -13M124.95 987.94v18.2M115.85 997.04h18.2M118.45 990.54l13 13M118.45 1003.54l13 -13M132.19 983.97v18.2M123.09 993.07h18.2M125.69 986.57l13 13M125.69 999.57l13 -13M139.43 981.98v18.2M130.33 991.08h18.2M132.93 984.58l13 13M132.93 997.58l13 -13M146.66 980.98v18.2M137.56 990.08h18.2M140.16 983.58l13 13M140.16 996.58l13 -13M153.9 980.49v18.2M144.8 989.59h18.2M147.4 983.09l13 13M147.4 996.09l13 -13M161.14 980.24v18.2M152.04 989.34h18.2M154.64 982.84l13 13M154.64 995.84l13 -13M168.38 980.11v18.2M159.28 989.21h18.2M161.88 982.71l13 13M161.88 995.71l13 -13M175.61 980.05v18.2M166.51 989.15h18.2M169.11 982.65l13 13M169.11 995.65l13 -13M182.85 980.02v18.2M173.75 989.12h18.2M176.35 982.62l13 13M176.35 995.62l13 -13M190.09 980v18.2M180.99 989.1h18.2M183.59 982.6l13 13M183.59 995.6l13 -13M197.32 980v18.2M188.22 989.1h18.2M190.82 982.6l13 13M190.82 995.6l13 -13M204.56 979.99v18.2M195.46 989.09h18.2M198.06 982.59l13 13M198.06 995.59l13 -13M211.8 979.99v18.2M202.7 989.09h18.2M205.3 982.59l13 13M205.3 995.59l13 -13M219.04 979.99v18.2M209.94 989.09h18.2M212.54 982.59l13 13M212.54 995.59l13 -13M226.28 979.99v18.2M217.18 989.09h18.2M219.78 982.59l13 13M219.78 995.59l13 -13M233.51 979.99v18.2M224.41 989.09h18.2M227.01 982.59l13 13M227.01 995.59l13 -13M240.75 979.99v18.2M231.65 989.09h18.2M234.25 982.59l13 13M234.25 995.59l13 -13M247.99 979.99v18.2M238.89 989.09h18.2M241.49 982.59l13 13M241.49 995.59l13 -13M255.22 979.99v18.2M246.12 989.09h18.2M248.72 982.59l13 13M248.72 995.59l13 -13M262.46 979.99v18.2M253.36 989.09h18.2M255.96 982.59l13 13M255.96 995.59l13 -13M269.7 979.99v18.2M260.6 989.09h18.2M263.2 982.59l13 13M263.2 995.59l13 -13M276.94 979.99v18.2M267.84 989.09h18.2M270.44 982.59l13 13M270.44 995.59l13 -13M284.18 979.99v18.2M275.07 989.09h18.2M277.68 982.59l13 13M277.68 995.59l13 -13M291.41 979.99v18.2M282.31 989.09h18.2M284.91 982.59l13 13M284.91 995.59l13 -13M298.65 979.99v18.2M289.55 989.09h18.2M292.15 982.59l13 13M292.15 995.59l13 -13M305.89 979.99v18.2M296.79 989.09h18.2M299.39 982.59l13 13M299.39 995.59l13 -13M313.12 979.99v18.2M304.02 989.09h18.2M306.62 982.59l13 13M306.62 995.59l13 -13M320.36 979.99v18.2M311.26 989.09h18.2M313.86 982.59l13 13M313.86 995.59l13 -13M327.6 979.99v18.2M318.5 989.09h18.2M321.1 982.59l13 13M321.1 995.59l13 -13M334.84 979.99v18.2M325.74 989.09h18.2M328.34 982.59l13 13M328.34 995.59l13 -13M342.07 979.99v18.2M332.97 989.09h18.2M335.57 982.59l13 13M335.57 995.59l13 -13M349.31 979.99v18.2M340.21 989.09h18.2M342.81 982.59l13 13M342.81 995.59l13 -13M356.55 979.99v18.2M347.45 989.09h18.2M350.05 982.59l13 13M350.05 995.59l13 -13M363.79 979.99v18.2M354.69 989.09h18.2M357.29 982.59l13 13M357.29 995.59l13 -13M371.02 979.99v18.2M361.92 989.09h18.2M364.52 982.59l13 13M364.52 995.59l13 -13M378.26 979.99v18.2M369.16 989.09h18.2M371.76 982.59l13 13M371.76 995.59l13 -13M385.5 979.99v18.2M376.4 989.09h18.2M379 982.59l13 13M379 995.59l13 -13M392.74 979.99v18.2M383.64 989.09h18.2M386.24 982.59l13 13M386.24 995.59l13 -13M399.98 979.99v18.2M390.88 989.09h18.2M393.48 982.59l13 13M393.48 995.59l13 -13M407.21 979.99v18.2M398.11 989.09h18.2M400.71 982.59l13 13M400.71 995.59l13 -13M414.45 979.99v18.2M405.35 989.09h18.2M407.95 982.59l13 13M407.95 995.59l13 -13M421.69 979.99v18.2M412.59 989.09h18.2M415.19 982.59l13 13M415.19 995.59l13 -13M428.93 979.99v18.2M419.82 989.09h18.2M422.43 982.59l13 13M422.43 995.59l13 -13M436.16 979.99v18.2M427.06 989.09h18.2M429.66 982.59l13 13M429.66 995.59l13 -13M443.4 979.99v18.2M434.3 989.09h18.2M436.9 982.59l13 13M436.9 995.59l13 -13M450.64 979.99v18.2M441.54 989.09h18.2M444.14 982.59l13 13M444.14 995.59l13 -13M457.88 979.99v18.2M448.77 989.09h18.2M451.38 982.59l13 13M451.38 995.59l13 -13M465.11 979.99v18.2M456.01 989.09h18.2M458.61 982.59l13 13M458.61 995.59l13 -13M472.35 979.99v18.2M463.25 989.09h18.2M465.85 982.59l13 13M465.85 995.59l13 -13M479.59 979.99v18.2M470.49 989.09h18.2M473.09 982.59l13 13M473.09 995.59l13 -13M486.82 979.99v18.2M477.72 989.09h18.2M480.32 982.59l13 13M480.32 995.59l13 -13M494.06 979.99v18.2M484.96 989.09h18.2M487.56 982.59l13 13M487.56 995.59l13 -13M501.3 979.99v18.2M492.2 989.09h18.2M494.8 982.59l13 13M494.8 995.59l13 -13M508.54 979.99v18.2M499.44 989.09h18.2M502.04 982.59l13 13M502.04 995.59l13 -13M515.77 979.99v18.2M506.67 989.09h18.2M509.27 982.59l13 13M509.27 995.59l13 -13M523.01 979.99v18.2M513.91 989.09h18.2M516.51 982.59l13 13M516.51 995.59l13 -13M530.25 979.99v18.2M521.15 989.09h18.2M523.75 982.59l13 13M523.75 995.59l13 -13M537.49 979.99v18.2M528.39 989.09h18.2M530.99 982.59l13 13M530.99 995.59l13 -13M544.73 979.99v18.2M535.62 989.09h18.2M538.23 982.59l13 13M538.23 995.59l13 -13M551.96 979.99v18.2M542.86 989.09h18.2M545.46 982.59l13 13M545.46 995.59l13 -13M559.2 979.99v18.2M550.1 989.09h18.2M552.7 982.59l13 13M552.7 995.59l13 -13M566.44 979.99v18.2M557.34 989.09h18.2M559.94 982.59l13 13M559.94 995.59l13 -13M573.67 979.99v18.2M564.57 989.09h18.2M567.17 982.59l13 13M567.17 995.59l13 -13M580.91 979.99v18.2M571.81 989.09h18.2M574.41 982.59l13 13M574.41 995.59l13 -13M588.15 979.99v18.2M579.05 989.09h18.2M581.65 982.59l13 13M581.65 995.59l13 -13M595.39 979.99v18.2M586.29 989.09h18.2M588.89 982.59l13 13M588.89 995.59l13 -13M602.62 979.99v18.2M593.52 989.09h18.2M596.12 982.59l13 13M596.12 995.59l13 -13M609.86 979.99v18.2M600.76 989.09h18.2M603.36 982.59l13 13M603.36 995.59l13 -13M617.1 979.99v18.2M608 989.09h18.2M610.6 982.59l13 13M610.6 995.59l13 -13M624.34 979.99v18.2M615.24 989.09h18.2M617.84 982.59l13 13M617.84 995.59l13 -13M631.58 979.99v18.2M622.48 989.09h18.2M625.08 982.59l13 13M625.08 995.59l13 -13M638.81 979.99v18.2M629.71 989.09h18.2M632.31 982.59l13 13M632.31 995.59l13 -13M646.05 979.99v18.2M636.95 989.09h18.2M639.55 982.59l13 13M639.55 995.59l13 -13M653.29 979.99v18.2M644.19 989.09h18.2M646.79 982.59l13 13M646.79 995.59l13 -13M660.52 979.99v18.2M651.42 989.09h18.2M654.02 982.59l13 13M654.02 995.59l13 -13M667.76 979.99v18.2M658.66 989.09h18.2M661.26 982.59l13 13M661.26 995.59l13 -13M675 979.99v18.2M665.9 989.09h18.2M668.5 982.59l13 13M668.5 995.59l13 -13M682.24 979.99v18.2M673.14 989.09h18.2M675.74 982.59l13 13M675.74 995.59l13 -13M689.48 979.99v18.2M680.38 989.09h18.2M682.98 982.59l13 13M682.98 995.59l13 -13M696.71 979.99v18.2M687.61 989.09h18.2M690.21 982.59l13 13M690.21 995.59l13 -13M703.95 979.99v18.2M694.85 989.09h18.2M697.45 982.59l13 13M697.45 995.59l13 -13M711.19 979.99v18.2M702.09 989.09h18.2M704.69 982.59l13 13M704.69 995.59l13 -13M718.42 979.99v18.2M709.32 989.09h18.2M711.92 982.59l13 13M711.92 995.59l13 -13M725.66 979.99v18.2M716.56 989.09h18.2M719.16 982.59l13 13M719.16 995.59l13 -13M732.9 979.99v18.2M723.8 989.09h18.2M726.4 982.59l13 13M726.4 995.59l13 -13M740.14 979.99v18.2M731.04 989.09h18.2M733.64 982.59l13 13M733.64 995.59l13 -13M747.38 979.99v18.2M738.27 989.09h18.2M740.88 982.59l13 13M740.88 995.59l13 -13M754.61 979.99v18.2M745.51 989.09h18.2M748.11 982.59l13 13M748.11 995.59l13 -13M761.85 979.99v18.2M752.75 989.09h18.2M755.35 982.59l13 13M755.35 995.59l13 -13M769.09 979.99v18.2M759.99 989.09h18.2M762.59 982.59l13 13M762.59 995.59l13 -13M776.33 979.99v18.2M767.23 989.09h18.2M769.83 982.59l13 13M769.83 995.59l13 -13M783.56 979.99v18.2M774.46 989.09h18.2M777.06 982.59l13 13M777.06 995.59l13 -13M790.8 979.99v18.2M781.7 989.09h18.2M784.3 982.59l13 13M784.3 995.59l13 -13M798.04 979.99v18.2M788.94 989.09h18.2M791.54 982.59l13 13M791.54 995.59l13 -13M805.27 979.99v18.2M796.17 989.09h18.2M798.77 982.59l13 13M798.77 995.59l13 -13M812.51 979.99v18.2M803.41 989.09h18.2M806.01 982.59l13 13M806.01 995.59l13 -13M819.75 979.99v18.2M810.65 989.09h18.2M813.25 982.59l13 13M813.25 995.59l13 -13M826.99 979.99v18.2M817.89 989.09h18.2M820.49 982.59l13 13M820.49 995.59l13 -13M834.23 979.99v18.2M825.12 989.09h18.2M827.73 982.59l13 13M827.73 995.59l13 -13M841.46 979.99v18.2M832.36 989.09h18.2M834.96 982.59l13 13M834.96 995.59l13 -13M848.7 979.99v18.2M839.6 989.09h18.2M842.2 982.59l13 13M842.2 995.59l13 -13M855.94 979.99v18.2M846.84 989.09h18.2M849.44 982.59l13 13M849.44 995.59l13 -13M863.17 979.99v18.2M854.07 989.09h18.2M856.67 982.59l13 13M856.67 995.59l13 -13M870.41 979.99v18.2M861.31 989.09h18.2M863.91 982.59l13 13M863.91 995.59l13 -13M877.65 979.99v18.2M868.55 989.09h18.2M871.15 982.59l13 13M871.15 995.59l13 -13M884.89 979.99v18.2M875.79 989.09h18.2M878.39 982.59l13 13M878.39 995.59l13 -13M892.12 979.99v18.2M883.02 989.09h18.2M885.62 982.59l13 13M885.62 995.59l13 -13M899.36 979.99v18.2M890.26 989.09h18.2M892.86 982.59l13 13M892.86 995.59l13 -13M906.6 979.99v18.2M897.5 989.09h18.2M900.1 982.59l13 13M900.1 995.59l13 -13M913.84 979.99v18.2M904.74 989.09h18.2M907.34 982.59l13 13M907.34 995.59l13 -13M921.08 979.99v18.2M911.98 989.09h18.2M914.58 982.59l13 13M914.58 995.59l13 -13M928.31 979.99v18.2M919.21 989.09h18.2M921.81 982.59l13 13M921.81 995.59l13 -13M935.55 979.99v18.2M926.45 989.09h18.2M929.05 982.59l13 13M929.05 995.59l13 -13M942.79 979.99v18.2M933.69 989.09h18.2M936.29 982.59l13 13M936.29 995.59l13 -13M950.02 979.99v18.2M940.92 989.09h18.2M943.52 982.59l13 13M943.52 995.59l13 -13M957.26 979.99v18.2M948.16 989.09h18.2M950.76 982.59l13 13M950.76 995.59l13 -13M964.5 979.99v18.2M955.4 989.09h18.2M958 982.59l13 13M958 995.59l13 -13" stroke="#D95319" stroke-width="4.1" fill="none" stroke-linejoin="round"/><path d="M103.24 1474.08 L110.47 1465.19 L117.71 1457.28 L124.95 1450.24 L132.19 1443.99 L139.43 1438.44 L146.66 1433.5 L153.9 1429.11 L161.14 1425.21 L168.38 1421.74 L175.61 1418.66 L182.85 1415.92 L190.09 1413.48 L197.32 1411.31 L204.56 1409.39 L211.8 1407.68 L219.04 1406.16 L226.28 1404.81 L233.51 1403.61 L240.75 1402.54 L247.99 1401.59 L255.22 1400.74 L262.46 1399.99 L269.7 1399.33 L276.94 1398.73 L284.18 1398.21 L291.41 1397.74 L298.65 1397.32 L305.89 1396.95 L313.12 1396.62 L320.36 1396.33 L327.6 1396.07 L334.84 1395.84 L342.07 1395.64 L349.31 1395.45 L356.55 1395.29 L363.79 1395.15 L371.02 1395.02 L378.26 1394.9 L385.5 1394.8 L392.74 1394.71 L399.98 1394.63 L407.21 1394.56 L414.45 1394.5 L421.69 1394.44 L428.93 1394.39 L436.16 1394.35 L443.4 1394.31 L450.64 1394.27 L457.88 1394.24 L465.11 1394.21 L472.35 1394.19 L479.59 1394.17 L486.82 1394.15 L494.06 1394.13 L501.3 1394.12 L508.54 1394.1 L515.77 1394.09 L523.01 1394.08 L530.25 1394.07 L537.49 1394.06 L544.73 1394.05 L551.96 1394.05 L559.2 1394.04 L566.44 1394.04 L573.67 1394.03 L580.91 1394.03 L588.15 1394.02 L595.39 1394.02 L602.62 1394.02 L609.86 1394.01 L617.1 1394.01 L624.34 1394.01 L631.58 1394.01 L638.81 1394.01 L646.05 1394 L653.29 1394 L660.52 1394 L667.76 1394 L675 1394 L682.24 1394 L689.48 1394 L696.71 1394 L703.95 1394 L711.19 1394 L718.42 1394 L725.66 1394 L732.9 1394 L740.14 1393.99 L747.38 1393.99 L754.61 1393.99 L761.85 1393.99 L769.09 1393.99 L776.33 1393.99 L783.56 1393.99 L790.8 1393.99 L798.04 1393.99 L805.27 1393.99 L812.51 1393.99 L819.75 1393.99 L826.99 1393.99 L834.23 1393.99 L841.46 1393.99 L848.7 1393.99 L855.94 1393.99 L863.17 1393.99 L870.41 1393.99 L877.65 1393.99 L884.89 1393.99 L892.12 1393.99 L899.36 1393.99 L906.6 1393.99 L913.84 1393.99 L921.08 1393.99 L928.31 1393.99 L935.55 1393.99 L942.79 1393.99 L950.02 1393.99 L957.26 1393.99 L964.5 1393.99" stroke="#EDB120" stroke-width="3.9" fill="none" stroke-linejoin="round"/><path d="M103.24 1465.08L111.24 1474.08L103.24 1483.08L95.24 1474.08zM110.47 1456.19L118.47 1465.19L110.47 1474.19L102.47 1465.19zM117.71 1448.28L125.71 1457.28L117.71 1466.28L109.71 1457.28zM124.95 1441.24L132.95 1450.24L124.95 1459.24L116.95 1450.24zM132.19 1434.99L140.19 1443.99L132.19 1452.99L124.19 1443.99zM139.43 1429.44L147.43 1438.44L139.43 1447.44L131.43 1438.44zM146.66 1424.5L154.66 1433.5L146.66 1442.5L138.66 1433.5zM153.9 1420.11L161.9 1429.11L153.9 1438.11L145.9 1429.11zM161.14 1416.21L169.14 1425.21L161.14 1434.21L153.14 1425.21zM168.38 1412.74L176.38 1421.74L168.38 1430.74L160.38 1421.74zM175.61 1409.66L183.61 1418.66L175.61 1427.66L167.61 1418.66zM182.85 1406.92L190.85 1415.92L182.85 1424.92L174.85 1415.92zM190.09 1404.48L198.09 1413.48L190.09 1422.48L182.09 1413.48zM197.32 1402.31L205.32 1411.31L197.32 1420.31L189.32 1411.31zM204.56 1400.39L212.56 1409.39L204.56 1418.39L196.56 1409.39zM211.8 1398.68L219.8 1407.68L211.8 1416.68L203.8 1407.68zM219.04 1397.16L227.04 1406.16L219.04 1415.16L211.04 1406.16zM226.28 1395.81L234.28 1404.81L226.28 1413.81L218.28 1404.81zM233.51 1394.61L241.51 1403.61L233.51 1412.61L225.51 1403.61zM240.75 1393.54L248.75 1402.54L240.75 1411.54L232.75 1402.54zM247.99 1392.59L255.99 1401.59L247.99 1410.59L239.99 1401.59zM255.22 1391.74L263.23 1400.74L255.22 1409.74L247.22 1400.74zM262.46 1390.99L270.46 1399.99L262.46 1408.99L254.46 1399.99zM269.7 1390.33L277.7 1399.33L269.7 1408.33L261.7 1399.33zM276.94 1389.73L284.94 1398.73L276.94 1407.73L268.94 1398.73zM284.18 1389.21L292.18 1398.21L284.18 1407.21L276.18 1398.21zM291.41 1388.74L299.41 1397.74L291.41 1406.74L283.41 1397.74zM298.65 1388.32L306.65 1397.32L298.65 1406.32L290.65 1397.32zM305.89 1387.95L313.89 1396.95L305.89 1405.95L297.89 1396.95zM313.12 1387.62L321.12 1396.62L313.12 1405.62L305.12 1396.62zM320.36 1387.33L328.36 1396.33L320.36 1405.33L312.36 1396.33zM327.6 1387.07L335.6 1396.07L327.6 1405.07L319.6 1396.07zM334.84 1386.84L342.84 1395.84L334.84 1404.84L326.84 1395.84zM342.07 1386.64L350.07 1395.64L342.07 1404.64L334.07 1395.64zM349.31 1386.45L357.31 1395.45L349.31 1404.45L341.31 1395.45zM356.55 1386.29L364.55 1395.29L356.55 1404.29L348.55 1395.29zM363.79 1386.15L371.79 1395.15L363.79 1404.15L355.79 1395.15zM371.02 1386.02L379.02 1395.02L371.02 1404.02L363.02 1395.02zM378.26 1385.9L386.26 1394.9L378.26 1403.9L370.26 1394.9zM385.5 1385.8L393.5 1394.8L385.5 1403.8L377.5 1394.8zM392.74 1385.71L400.74 1394.71L392.74 1403.71L384.74 1394.71zM399.98 1385.63L407.98 1394.63L399.98 1403.63L391.98 1394.63zM407.21 1385.56L415.21 1394.56L407.21 1403.56L399.21 1394.56zM414.45 1385.5L422.45 1394.5L414.45 1403.5L406.45 1394.5zM421.69 1385.44L429.69 1394.44L421.69 1403.44L413.69 1394.44zM428.93 1385.39L436.93 1394.39L428.93 1403.39L420.93 1394.39zM436.16 1385.35L444.16 1394.35L436.16 1403.35L428.16 1394.35zM443.4 1385.31L451.4 1394.31L443.4 1403.31L435.4 1394.31zM450.64 1385.27L458.64 1394.27L450.64 1403.27L442.64 1394.27zM457.88 1385.24L465.88 1394.24L457.88 1403.24L449.88 1394.24zM465.11 1385.21L473.11 1394.21L465.11 1403.21L457.11 1394.21zM472.35 1385.19L480.35 1394.19L472.35 1403.19L464.35 1394.19zM479.59 1385.17L487.59 1394.17L479.59 1403.17L471.59 1394.17zM486.82 1385.15L494.82 1394.15L486.82 1403.15L478.82 1394.15zM494.06 1385.13L502.06 1394.13L494.06 1403.13L486.06 1394.13zM501.3 1385.12L509.3 1394.12L501.3 1403.12L493.3 1394.12zM508.54 1385.1L516.54 1394.1L508.54 1403.1L500.54 1394.1zM515.77 1385.09L523.77 1394.09L515.77 1403.09L507.77 1394.09zM523.01 1385.08L531.01 1394.08L523.01 1403.08L515.01 1394.08zM530.25 1385.07L538.25 1394.07L530.25 1403.07L522.25 1394.07zM537.49 1385.06L545.49 1394.06L537.49 1403.06L529.49 1394.06zM544.73 1385.05L552.73 1394.05L544.73 1403.05L536.73 1394.05zM551.96 1385.05L559.96 1394.05L551.96 1403.05L543.96 1394.05zM559.2 1385.04L567.2 1394.04L559.2 1403.04L551.2 1394.04zM566.44 1385.04L574.44 1394.04L566.44 1403.04L558.44 1394.04zM573.67 1385.03L581.67 1394.03L573.67 1403.03L565.67 1394.03zM580.91 1385.03L588.91 1394.03L580.91 1403.03L572.91 1394.03zM588.15 1385.02L596.15 1394.02L588.15 1403.02L580.15 1394.02zM595.39 1385.02L603.39 1394.02L595.39 1403.02L587.39 1394.02zM602.62 1385.02L610.62 1394.02L602.62 1403.02L594.62 1394.02zM609.86 1385.01L617.86 1394.01L609.86 1403.01L601.86 1394.01zM617.1 1385.01L625.1 1394.01L617.1 1403.01L609.1 1394.01zM624.34 1385.01L632.34 1394.01L624.34 1403.01L616.34 1394.01zM631.58 1385.01L639.58 1394.01L631.58 1403.01L623.58 1394.01zM638.81 1385.01L646.81 1394.01L638.81 1403.01L630.81 1394.01zM646.05 1385L654.05 1394L646.05 1403L638.05 1394zM653.29 1385L661.29 1394L653.29 1403L645.29 1394zM660.52 1385L668.52 1394L660.52 1403L652.52 1394zM667.76 1385L675.76 1394L667.76 1403L659.76 1394zM675 1385L683 1394L675 1403L667 1394zM682.24 1385L690.24 1394L682.24 1403L674.24 1394zM689.48 1385L697.48 1394L689.48 1403L681.48 1394zM696.71 1385L704.71 1394L696.71 1403L688.71 1394zM703.95 1385L711.95 1394L703.95 1403L695.95 1394zM711.19 1385L719.19 1394L711.19 1403L703.19 1394zM718.42 1385L726.42 1394L718.42 1403L710.42 1394zM725.66 1385L733.66 1394L725.66 1403L717.66 1394zM732.9 1385L740.9 1394L732.9 1403L724.9 1394zM740.14 1384.99L748.14 1393.99L740.14 1402.99L732.14 1393.99zM747.38 1384.99L755.38 1393.99L747.38 1402.99L739.38 1393.99zM754.61 1384.99L762.61 1393.99L754.61 1402.99L746.61 1393.99zM761.85 1384.99L769.85 1393.99L761.85 1402.99L753.85 1393.99zM769.09 1384.99L777.09 1393.99L769.09 1402.99L761.09 1393.99zM776.33 1384.99L784.33 1393.99L776.33 1402.99L768.33 1393.99zM783.56 1384.99L791.56 1393.99L783.56 1402.99L775.56 1393.99zM790.8 1384.99L798.8 1393.99L790.8 1402.99L782.8 1393.99zM798.04 1384.99L806.04 1393.99L798.04 1402.99L790.04 1393.99zM805.27 1384.99L813.27 1393.99L805.27 1402.99L797.27 1393.99zM812.51 1384.99L820.51 1393.99L812.51 1402.99L804.51 1393.99zM819.75 1384.99L827.75 1393.99L819.75 1402.99L811.75 1393.99zM826.99 1384.99L834.99 1393.99L826.99 1402.99L818.99 1393.99zM834.23 1384.99L842.23 1393.99L834.23 1402.99L826.23 1393.99zM841.46 1384.99L849.46 1393.99L841.46 1402.99L833.46 1393.99zM848.7 1384.99L856.7 1393.99L848.7 1402.99L840.7 1393.99zM855.94 1384.99L863.94 1393.99L855.94 1402.99L847.94 1393.99zM863.17 1384.99L871.17 1393.99L863.17 1402.99L855.17 1393.99zM870.41 1384.99L878.41 1393.99L870.41 1402.99L862.41 1393.99zM877.65 1384.99L885.65 1393.99L877.65 1402.99L869.65 1393.99zM884.89 1384.99L892.89 1393.99L884.89 1402.99L876.89 1393.99zM892.12 1384.99L900.12 1393.99L892.12 1402.99L884.12 1393.99zM899.36 1384.99L907.36 1393.99L899.36 1402.99L891.36 1393.99zM906.6 1384.99L914.6 1393.99L906.6 1402.99L898.6 1393.99zM913.84 1384.99L921.84 1393.99L913.84 1402.99L905.84 1393.99zM921.08 1384.99L929.08 1393.99L921.08 1402.99L913.08 1393.99zM928.31 1384.99L936.31 1393.99L928.31 1402.99L920.31 1393.99zM935.55 1384.99L943.55 1393.99L935.55 1402.99L927.55 1393.99zM942.79 1384.99L950.79 1393.99L942.79 1402.99L934.79 1393.99zM950.02 1384.99L958.02 1393.99L950.02 1402.99L942.02 1393.99zM957.26 1384.99L965.26 1393.99L957.26 1402.99L949.26 1393.99zM964.5 1384.99L972.5 1393.99L964.5 1402.99L956.5 1393.99z" stroke="#EDB120" stroke-width="4.1" fill="none" stroke-linejoin="miter"/><text class="t" x="82" y="1518.4" text-anchor="end">0</text><text class="t" x="82" y="1289.43" text-anchor="end">0.5</text><text class="t" x="82" y="1060.47" text-anchor="end">1</text><text class="t" x="82" y="831.5" text-anchor="end">1.5</text><text class="t" x="96" y="1540.2" text-anchor="middle">0</text><text class="t" x="240.75" y="1540.2" text-anchor="middle">20</text><text class="t" x="385.5" y="1540.2" text-anchor="middle">40</text><text class="t" x="530.25" y="1540.2" text-anchor="middle">60</text><text class="t" x="675" y="1540.2" text-anchor="middle">80</text><text class="t" x="819.75" y="1540.2" text-anchor="middle">100</text><text class="t" x="972.5" y="1540.2" text-anchor="middle">120</text><text class="m" font-size="100" stroke="#fff" stroke-width="1.00" transform="translate(501.61 1584.37) scale(0.3976 0.3484)">n</text><text class="m" font-size="100" stroke="#fff" stroke-width="1.00" transform="translate(522.11 1584.37) scale(0.3976 0.3484)">,</text><text class="m" font-size="100" stroke="#fff" stroke-width="1.00" transform="translate(545.25 1584.37) scale(0.3000 0.3484)">q</text><text class="m" style="font-family:'Noto Serif CJK SC',serif;font-style:normal;font-weight:300" font-size="100" stroke="#fff" stroke-width="0.00" transform="translate(27.52 1181.81) rotate(-90) scale(0.2821 0.2540) skewX(-14)">λ</text><text class="m" style="font-family:'Noto Serif CJK SC',serif;font-style:normal;font-weight:300" font-size="100" stroke="#fff" stroke-width="0.00" transform="translate(23.32 1166) rotate(-90) scale(0.1886 0.1904) skewX(-14)">*</text><rect x="708.5" y="1068.6" width="174.1" height="109.8" fill="#fff" stroke="#000" stroke-width="3.3"/><path d="M722.2 1090H806.6" stroke="#0072BD" stroke-width="3.9"/><path d="M759.15 1083.75h12.5v12.5h-12.5z" stroke="#0072BD" stroke-width="3.9" fill="none"/><text class="t" x="811.7" y="1095">q=3/8</text><path d="M722.2 1123.6H806.6" stroke="#D95319" stroke-width="3.9"/><path d="M765.4 1112.6v22M754.4 1123.6h22M757.2 1115.4l16.4 16.4M757.2 1131.8l16.4 -16.4" stroke="#D95319" stroke-width="3.9" fill="none"/><text class="t" x="811.7" y="1128.6">q=1/2</text><path d="M722.2 1157.1H806.6" stroke="#EDB120" stroke-width="3.9"/><path d="M765.4 1147.1L772.8 1157.1L765.4 1167.1L758 1157.1z" stroke="#EDB120" stroke-width="3.9" fill="none"/><text class="t" x="811.7" y="1162.1">q=8/9</text></g>
<g><path d="M1264.7 824.5V1501.2M1407.5 824.5V1501.2M1550.3 824.5V1501.2M1693.1 824.5V1501.2M1835.9 824.5V1501.2M1121.9 1365.86H1978.7M1121.9 1230.52H1978.7M1121.9 1095.18H1978.7M1121.9 959.84H1978.7" stroke="#dddddd" stroke-width="2.8" fill="none"/><path d="M1264.7 1501.2v-10M1264.7 824.5v10M1407.5 1501.2v-10M1407.5 824.5v10M1550.3 1501.2v-10M1550.3 824.5v10M1693.1 1501.2v-10M1693.1 824.5v10M1835.9 1501.2v-10M1835.9 824.5v10M1121.9 1365.86h10M1978.7 1365.86h-10M1121.9 1230.52h10M1978.7 1230.52h-10M1121.9 1095.18h10M1978.7 1095.18h-10M1121.9 959.84h10M1978.7 959.84h-10" stroke="#000" stroke-width="3.3" fill="none"/><rect x="1121.9" y="824.5" width="856.8" height="676.7" stroke="#000" stroke-width="3.3" fill="none"/><path d="M1129.04 907.6 L1136.18 886.79 L1143.32 878.99 L1150.46 876.06 L1157.6 874.96 L1164.74 874.55 L1171.88 874.4 L1179.02 874.34 L1186.16 874.32 L1193.3 874.31 L1200.44 874.31 L1207.58 874.31 L1214.72 874.31 L1221.86 874.31 L1229 874.31 L1236.14 874.31 L1243.28 874.31 L1250.42 874.31 L1257.56 874.31 L1264.7 874.31 L1271.84 874.31 L1278.98 874.31 L1286.12 874.31 L1293.26 874.31 L1300.4 874.31 L1307.54 874.31 L1314.68 874.31 L1321.82 874.31 L1328.96 874.31 L1336.1 874.31 L1343.24 874.31 L1350.38 874.31 L1357.52 874.31 L1364.66 874.31 L1371.8 874.31 L1378.94 874.31 L1386.08 874.31 L1393.22 874.31 L1400.36 874.31 L1407.5 874.31 L1414.64 874.31 L1421.78 874.31 L1428.92 874.31 L1436.06 874.31 L1443.2 874.31 L1450.34 874.31 L1457.48 874.31 L1464.62 874.31 L1471.76 874.31 L1478.9 874.31 L1486.04 874.31 L1493.18 874.31 L1500.32 874.31 L1507.46 874.31 L1514.6 874.31 L1521.74 874.31 L1528.88 874.31 L1536.02 874.31 L1543.16 874.31 L1550.3 874.31 L1557.44 874.31 L1564.58 874.31 L1571.72 874.31 L1578.86 874.31 L1586 874.31 L1593.14 874.31 L1600.28 874.31 L1607.42 874.31 L1614.56 874.31 L1621.7 874.31 L1628.84 874.31 L1635.98 874.31 L1643.12 874.31 L1650.26 874.31 L1657.4 874.31 L1664.54 874.31 L1671.68 874.31 L1678.82 874.31 L1685.96 874.31 L1693.1 874.31 L1700.24 874.31 L1707.38 874.31 L1714.52 874.31 L1721.66 874.31 L1728.8 874.31 L1735.94 874.31 L1743.08 874.31 L1750.22 874.31 L1757.36 874.31 L1764.5 874.31 L1771.64 874.31 L1778.78 874.31 L1785.92 874.31 L1793.06 874.31 L1800.2 874.31 L1807.34 874.31 L1814.48 874.31 L1821.62 874.31 L1828.76 874.31 L1835.9 874.31 L1843.04 874.31 L1850.18 874.31 L1857.32 874.31 L1864.46 874.31 L1871.6 874.31 L1878.74 874.31 L1885.88 874.31 L1893.02 874.31 L1900.16 874.31 L1907.3 874.31 L1914.44 874.31 L1921.58 874.31 L1928.72 874.31 L1935.86 874.31 L1943 874.31 L1950.14 874.31 L1957.28 874.31 L1964.42 874.31 L1971.56 874.31 L1978.7 874.31" stroke="#0072BD" stroke-width="3.9" fill="none" stroke-linejoin="round"/><path d="M1122.89 901.45h12.3v12.3h-12.3zM1130.03 880.64h12.3v12.3h-12.3zM1137.17 872.84h12.3v12.3h-12.3zM1144.31 869.91h12.3v12.3h-12.3zM1151.45 868.81h12.3v12.3h-12.3zM1158.59 868.4h12.3v12.3h-12.3zM1165.73 868.25h12.3v12.3h-12.3zM1172.87 868.19h12.3v12.3h-12.3zM1180.01 868.17h12.3v12.3h-12.3zM1187.15 868.16h12.3v12.3h-12.3zM1194.29 868.16h12.3v12.3h-12.3zM1201.43 868.16h12.3v12.3h-12.3zM1208.57 868.16h12.3v12.3h-12.3zM1215.71 868.16h12.3v12.3h-12.3zM1222.85 868.16h12.3v12.3h-12.3zM1229.99 868.16h12.3v12.3h-12.3zM1237.13 868.16h12.3v12.3h-12.3zM1244.27 868.16h12.3v12.3h-12.3zM1251.41 868.16h12.3v12.3h-12.3zM1258.55 868.16h12.3v12.3h-12.3zM1265.69 868.16h12.3v12.3h-12.3zM1272.83 868.16h12.3v12.3h-12.3zM1279.97 868.16h12.3v12.3h-12.3zM1287.11 868.16h12.3v12.3h-12.3zM1294.25 868.16h12.3v12.3h-12.3zM1301.39 868.16h12.3v12.3h-12.3zM1308.53 868.16h12.3v12.3h-12.3zM1315.67 868.16h12.3v12.3h-12.3zM1322.81 868.16h12.3v12.3h-12.3zM1329.95 868.16h12.3v12.3h-12.3zM1337.09 868.16h12.3v12.3h-12.3zM1344.23 868.16h12.3v12.3h-12.3zM1351.37 868.16h12.3v12.3h-12.3zM1358.51 868.16h12.3v12.3h-12.3zM1365.65 868.16h12.3v12.3h-12.3zM1372.79 868.16h12.3v12.3h-12.3zM1379.93 868.16h12.3v12.3h-12.3zM1387.07 868.16h12.3v12.3h-12.3zM1394.21 868.16h12.3v12.3h-12.3zM1401.35 868.16h12.3v12.3h-12.3zM1408.49 868.16h12.3v12.3h-12.3zM1415.63 868.16h12.3v12.3h-12.3zM1422.77 868.16h12.3v12.3h-12.3zM1429.91 868.16h12.3v12.3h-12.3zM1437.05 868.16h12.3v12.3h-12.3zM1444.19 868.16h12.3v12.3h-12.3zM1451.33 868.16h12.3v12.3h-12.3zM1458.47 868.16h12.3v12.3h-12.3zM1465.61 868.16h12.3v12.3h-12.3zM1472.75 868.16h12.3v12.3h-12.3zM1479.89 868.16h12.3v12.3h-12.3zM1487.03 868.16h12.3v12.3h-12.3zM1494.17 868.16h12.3v12.3h-12.3zM1501.31 868.16h12.3v12.3h-12.3zM1508.45 868.16h12.3v12.3h-12.3zM1515.59 868.16h12.3v12.3h-12.3zM1522.73 868.16h12.3v12.3h-12.3zM1529.87 868.16h12.3v12.3h-12.3zM1537.01 868.16h12.3v12.3h-12.3zM1544.15 868.16h12.3v12.3h-12.3zM1551.29 868.16h12.3v12.3h-12.3zM1558.43 868.16h12.3v12.3h-12.3zM1565.57 868.16h12.3v12.3h-12.3zM1572.71 868.16h12.3v12.3h-12.3zM1579.85 868.16h12.3v12.3h-12.3zM1586.99 868.16h12.3v12.3h-12.3zM1594.13 868.16h12.3v12.3h-12.3zM1601.27 868.16h12.3v12.3h-12.3zM1608.41 868.16h12.3v12.3h-12.3zM1615.55 868.16h12.3v12.3h-12.3zM1622.69 868.16h12.3v12.3h-12.3zM1629.83 868.16h12.3v12.3h-12.3zM1636.97 868.16h12.3v12.3h-12.3zM1644.11 868.16h12.3v12.3h-12.3zM1651.25 868.16h12.3v12.3h-12.3zM1658.39 868.16h12.3v12.3h-12.3zM1665.53 868.16h12.3v12.3h-12.3zM1672.67 868.16h12.3v12.3h-12.3zM1679.81 868.16h12.3v12.3h-12.3zM1686.95 868.16h12.3v12.3h-12.3zM1694.09 868.16h12.3v12.3h-12.3zM1701.23 868.16h12.3v12.3h-12.3zM1708.37 868.16h12.3v12.3h-12.3zM1715.51 868.16h12.3v12.3h-12.3zM1722.65 868.16h12.3v12.3h-12.3zM1729.79 868.16h12.3v12.3h-12.3zM1736.93 868.16h12.3v12.3h-12.3zM1744.07 868.16h12.3v12.3h-12.3zM1751.21 868.16h12.3v12.3h-12.3zM1758.35 868.16h12.3v12.3h-12.3zM1765.49 868.16h12.3v12.3h-12.3zM1772.63 868.16h12.3v12.3h-12.3zM1779.77 868.16h12.3v12.3h-12.3zM1786.91 868.16h12.3v12.3h-12.3zM1794.05 868.16h12.3v12.3h-12.3zM1801.19 868.16h12.3v12.3h-12.3zM1808.33 868.16h12.3v12.3h-12.3zM1815.47 868.16h12.3v12.3h-12.3zM1822.61 868.16h12.3v12.3h-12.3zM1829.75 868.16h12.3v12.3h-12.3zM1836.89 868.16h12.3v12.3h-12.3zM1844.03 868.16h12.3v12.3h-12.3zM1851.17 868.16h12.3v12.3h-12.3zM1858.31 868.16h12.3v12.3h-12.3zM1865.45 868.16h12.3v12.3h-12.3zM1872.59 868.16h12.3v12.3h-12.3zM1879.73 868.16h12.3v12.3h-12.3zM1886.87 868.16h12.3v12.3h-12.3zM1894.01 868.16h12.3v12.3h-12.3zM1901.15 868.16h12.3v12.3h-12.3zM1908.29 868.16h12.3v12.3h-12.3zM1915.43 868.16h12.3v12.3h-12.3zM1922.57 868.16h12.3v12.3h-12.3zM1929.71 868.16h12.3v12.3h-12.3zM1936.85 868.16h12.3v12.3h-12.3zM1943.99 868.16h12.3v12.3h-12.3zM1951.13 868.16h12.3v12.3h-12.3zM1958.27 868.16h12.3v12.3h-12.3zM1965.41 868.16h12.3v12.3h-12.3zM1972.55 868.16h12.3v12.3h-12.3z" stroke="#0072BD" stroke-width="4.1" fill="none" stroke-linejoin="round"/><path d="M1129.04 1063.78 L1136.18 1032.52 L1143.32 1016.89 L1150.46 1009.07 L1157.6 1005.16 L1164.74 1003.21 L1171.88 1002.23 L1179.02 1001.74 L1186.16 1001.5 L1193.3 1001.38 L1200.44 1001.32 L1207.58 1001.28 L1214.72 1001.27 L1221.86 1001.26 L1229 1001.26 L1236.14 1001.26 L1243.28 1001.25 L1250.42 1001.25 L1257.56 1001.25 L1264.7 1001.25 L1271.84 1001.25 L1278.98 1001.25 L1286.12 1001.25 L1293.26 1001.25 L1300.4 1001.25 L1307.54 1001.25 L1314.68 1001.25 L1321.82 1001.25 L1328.96 1001.25 L1336.1 1001.25 L1343.24 1001.25 L1350.38 1001.25 L1357.52 1001.25 L1364.66 1001.25 L1371.8 1001.25 L1378.94 1001.25 L1386.08 1001.25 L1393.22 1001.25 L1400.36 1001.25 L1407.5 1001.25 L1414.64 1001.25 L1421.78 1001.25 L1428.92 1001.25 L1436.06 1001.25 L1443.2 1001.25 L1450.34 1001.25 L1457.48 1001.25 L1464.62 1001.25 L1471.76 1001.25 L1478.9 1001.25 L1486.04 1001.25 L1493.18 1001.25 L1500.32 1001.25 L1507.46 1001.25 L1514.6 1001.25 L1521.74 1001.25 L1528.88 1001.25 L1536.02 1001.25 L1543.16 1001.25 L1550.3 1001.25 L1557.44 1001.25 L1564.58 1001.25 L1571.72 1001.25 L1578.86 1001.25 L1586 1001.25 L1593.14 1001.25 L1600.28 1001.25 L1607.42 1001.25 L1614.56 1001.25 L1621.7 1001.25 L1628.84 1001.25 L1635.98 1001.25 L1643.12 1001.25 L1650.26 1001.25 L1657.4 1001.25 L1664.54 1001.25 L1671.68 1001.25 L1678.82 1001.25 L1685.96 1001.25 L1693.1 1001.25 L1700.24 1001.25 L1707.38 1001.25 L1714.52 1001.25 L1721.66 1001.25 L1728.8 1001.25 L1735.94 1001.25 L1743.08 1001.25 L1750.22 1001.25 L1757.36 1001.25 L1764.5 1001.25 L1771.64 1001.25 L1778.78 1001.25 L1785.92 1001.25 L1793.06 1001.25 L1800.2 1001.25 L1807.34 1001.25 L1814.48 1001.25 L1821.62 1001.25 L1828.76 1001.25 L1835.9 1001.25 L1843.04 1001.25 L1850.18 1001.25 L1857.32 1001.25 L1864.46 1001.25 L1871.6 1001.25 L1878.74 1001.25 L1885.88 1001.25 L1893.02 1001.25 L1900.16 1001.25 L1907.3 1001.25 L1914.44 1001.25 L1921.58 1001.25 L1928.72 1001.25 L1935.86 1001.25 L1943 1001.25 L1950.14 1001.25 L1957.28 1001.25 L1964.42 1001.25 L1971.56 1001.25 L1978.7 1001.25" stroke="#D95319" stroke-width="3.9" fill="none" stroke-linejoin="round"/><path d="M1129.04 1054.68v18.2M1119.94 1063.78h18.2M1122.54 1057.28l13 13M1122.54 1070.28l13 -13M1136.18 1023.42v18.2M1127.08 1032.52h18.2M1129.68 1026.02l13 13M1129.68 1039.02l13 -13M1143.32 1007.79v18.2M1134.22 1016.89h18.2M1136.82 1010.39l13 13M1136.82 1023.39l13 -13M1150.46 999.97v18.2M1141.36 1009.07h18.2M1143.96 1002.57l13 13M1143.96 1015.57l13 -13M1157.6 996.06v18.2M1148.5 1005.16h18.2M1151.1 998.66l13 13M1151.1 1011.66l13 -13M1164.74 994.11v18.2M1155.64 1003.21h18.2M1158.24 996.71l13 13M1158.24 1009.71l13 -13M1171.88 993.13v18.2M1162.78 1002.23h18.2M1165.38 995.73l13 13M1165.38 1008.73l13 -13M1179.02 992.64v18.2M1169.92 1001.74h18.2M1172.52 995.24l13 13M1172.52 1008.24l13 -13M1186.16 992.4v18.2M1177.06 1001.5h18.2M1179.66 995l13 13M1179.66 1008l13 -13M1193.3 992.28v18.2M1184.2 1001.38h18.2M1186.8 994.88l13 13M1186.8 1007.88l13 -13M1200.44 992.22v18.2M1191.34 1001.32h18.2M1193.94 994.82l13 13M1193.94 1007.82l13 -13M1207.58 992.18v18.2M1198.48 1001.28h18.2M1201.08 994.78l13 13M1201.08 1007.78l13 -13M1214.72 992.17v18.2M1205.62 1001.27h18.2M1208.22 994.77l13 13M1208.22 1007.77l13 -13M1221.86 992.16v18.2M1212.76 1001.26h18.2M1215.36 994.76l13 13M1215.36 1007.76l13 -13M1229 992.16v18.2M1219.9 1001.26h18.2M1222.5 994.76l13 13M1222.5 1007.76l13 -13M1236.14 992.16v18.2M1227.04 1001.26h18.2M1229.64 994.76l13 13M1229.64 1007.76l13 -13M1243.28 992.15v18.2M1234.18 1001.25h18.2M1236.78 994.75l13 13M1236.78 1007.75l13 -13M1250.42 992.15v18.2M1241.32 1001.25h18.2M1243.92 994.75l13 13M1243.92 1007.75l13 -13M1257.56 992.15v18.2M1248.46 1001.25h18.2M1251.06 994.75l13 13M1251.06 1007.75l13 -13M1264.7 992.15v18.2M1255.6 1001.25h18.2M1258.2 994.75l13 13M1258.2 1007.75l13 -13M1271.84 992.15v18.2M1262.74 1001.25h18.2M1265.34 994.75l13 13M1265.34 1007.75l13 -13M1278.98 992.15v18.2M1269.88 1001.25h18.2M1272.48 994.75l13 13M1272.48 1007.75l13 -13M1286.12 992.15v18.2M1277.02 1001.25h18.2M1279.62 994.75l13 13M1279.62 1007.75l13 -13M1293.26 992.15v18.2M1284.16 1001.25h18.2M1286.76 994.75l13 13M1286.76 1007.75l13 -13M1300.4 992.15v18.2M1291.3 1001.25h18.2M1293.9 994.75l13 13M1293.9 1007.75l13 -13M1307.54 992.15v18.2M1298.44 1001.25h18.2M1301.04 994.75l13 13M1301.04 1007.75l13 -13M1314.68 992.15v18.2M1305.58 1001.25h18.2M1308.18 994.75l13 13M1308.18 1007.75l13 -13M1321.82 992.15v18.2M1312.72 1001.25h18.2M1315.32 994.75l13 13M1315.32 1007.75l13 -13M1328.96 992.15v18.2M1319.86 1001.25h18.2M1322.46 994.75l13 13M1322.46 1007.75l13 -13M1336.1 992.15v18.2M1327 1001.25h18.2M1329.6 994.75l13 13M1329.6 1007.75l13 -13M1343.24 992.15v18.2M1334.14 1001.25h18.2M1336.74 994.75l13 13M1336.74 1007.75l13 -13M1350.38 992.15v18.2M1341.28 1001.25h18.2M1343.88 994.75l13 13M1343.88 1007.75l13 -13M1357.52 992.15v18.2M1348.42 1001.25h18.2M1351.02 994.75l13 13M1351.02 1007.75l13 -13M1364.66 992.15v18.2M1355.56 1001.25h18.2M1358.16 994.75l13 13M1358.16 1007.75l13 -13M1371.8 992.15v18.2M1362.7 1001.25h18.2M1365.3 994.75l13 13M1365.3 1007.75l13 -13M1378.94 992.15v18.2M1369.84 1001.25h18.2M1372.44 994.75l13 13M1372.44 1007.75l13 -13M1386.08 992.15v18.2M1376.98 1001.25h18.2M1379.58 994.75l13 13M1379.58 1007.75l13 -13M1393.22 992.15v18.2M1384.12 1001.25h18.2M1386.72 994.75l13 13M1386.72 1007.75l13 -13M1400.36 992.15v18.2M1391.26 1001.25h18.2M1393.86 994.75l13 13M1393.86 1007.75l13 -13M1407.5 992.15v18.2M1398.4 1001.25h18.2M1401 994.75l13 13M1401 1007.75l13 -13M1414.64 992.15v18.2M1405.54 1001.25h18.2M1408.14 994.75l13 13M1408.14 1007.75l13 -13M1421.78 992.15v18.2M1412.68 1001.25h18.2M1415.28 994.75l13 13M1415.28 1007.75l13 -13M1428.92 992.15v18.2M1419.82 1001.25h18.2M1422.42 994.75l13 13M1422.42 1007.75l13 -13M1436.06 992.15v18.2M1426.96 1001.25h18.2M1429.56 994.75l13 13M1429.56 1007.75l13 -13M1443.2 992.15v18.2M1434.1 1001.25h18.2M1436.7 994.75l13 13M1436.7 1007.75l13 -13M1450.34 992.15v18.2M1441.24 1001.25h18.2M1443.84 994.75l13 13M1443.84 1007.75l13 -13M1457.48 992.15v18.2M1448.38 1001.25h18.2M1450.98 994.75l13 13M1450.98 1007.75l13 -13M1464.62 992.15v18.2M1455.52 1001.25h18.2M1458.12 994.75l13 13M1458.12 1007.75l13 -13M1471.76 992.15v18.2M1462.66 1001.25h18.2M1465.26 994.75l13 13M1465.26 1007.75l13 -13M1478.9 992.15v18.2M1469.8 1001.25h18.2M1472.4 994.75l13 13M1472.4 1007.75l13 -13M1486.04 992.15v18.2M1476.94 1001.25h18.2M1479.54 994.75l13 13M1479.54 1007.75l13 -13M1493.18 992.15v18.2M1484.08 1001.25h18.2M1486.68 994.75l13 13M1486.68 1007.75l13 -13M1500.32 992.15v18.2M1491.22 1001.25h18.2M1493.82 994.75l13 13M1493.82 1007.75l13 -13M1507.46 992.15v18.2M1498.36 1001.25h18.2M1500.96 994.75l13 13M1500.96 1007.75l13 -13M1514.6 992.15v18.2M1505.5 1001.25h18.2M1508.1 994.75l13 13M1508.1 1007.75l13 -13M1521.74 992.15v18.2M1512.64 1001.25h18.2M1515.24 994.75l13 13M1515.24 1007.75l13 -13M1528.88 992.15v18.2M1519.78 1001.25h18.2M1522.38 994.75l13 13M1522.38 1007.75l13 -13M1536.02 992.15v18.2M1526.92 1001.25h18.2M1529.52 994.75l13 13M1529.52 1007.75l13 -13M1543.16 992.15v18.2M1534.06 1001.25h18.2M1536.66 994.75l13 13M1536.66 1007.75l13 -13M1550.3 992.15v18.2M1541.2 1001.25h18.2M1543.8 994.75l13 13M1543.8 1007.75l13 -13M1557.44 992.15v18.2M1548.34 1001.25h18.2M1550.94 994.75l13 13M1550.94 1007.75l13 -13M1564.58 992.15v18.2M1555.48 1001.25h18.2M1558.08 994.75l13 13M1558.08 1007.75l13 -13M1571.72 992.15v18.2M1562.62 1001.25h18.2M1565.22 994.75l13 13M1565.22 1007.75l13 -13M1578.86 992.15v18.2M1569.76 1001.25h18.2M1572.36 994.75l13 13M1572.36 1007.75l13 -13M1586 992.15v18.2M1576.9 1001.25h18.2M1579.5 994.75l13 13M1579.5 1007.75l13 -13M1593.14 992.15v18.2M1584.04 1001.25h18.2M1586.64 994.75l13 13M1586.64 1007.75l13 -13M1600.28 992.15v18.2M1591.18 1001.25h18.2M1593.78 994.75l13 13M1593.78 1007.75l13 -13M1607.42 992.15v18.2M1598.32 1001.25h18.2M1600.92 994.75l13 13M1600.92 1007.75l13 -13M1614.56 992.15v18.2M1605.46 1001.25h18.2M1608.06 994.75l13 13M1608.06 1007.75l13 -13M1621.7 992.15v18.2M1612.6 1001.25h18.2M1615.2 994.75l13 13M1615.2 1007.75l13 -13M1628.84 992.15v18.2M1619.74 1001.25h18.2M1622.34 994.75l13 13M1622.34 1007.75l13 -13M1635.98 992.15v18.2M1626.88 1001.25h18.2M1629.48 994.75l13 13M1629.48 1007.75l13 -13M1643.12 992.15v18.2M1634.02 1001.25h18.2M1636.62 994.75l13 13M1636.62 1007.75l13 -13M1650.26 992.15v18.2M1641.16 1001.25h18.2M1643.76 994.75l13 13M1643.76 1007.75l13 -13M1657.4 992.15v18.2M1648.3 1001.25h18.2M1650.9 994.75l13 13M1650.9 1007.75l13 -13M1664.54 992.15v18.2M1655.44 1001.25h18.2M1658.04 994.75l13 13M1658.04 1007.75l13 -13M1671.68 992.15v18.2M1662.58 1001.25h18.2M1665.18 994.75l13 13M1665.18 1007.75l13 -13M1678.82 992.15v18.2M1669.72 1001.25h18.2M1672.32 994.75l13 13M1672.32 1007.75l13 -13M1685.96 992.15v18.2M1676.86 1001.25h18.2M1679.46 994.75l13 13M1679.46 1007.75l13 -13M1693.1 992.15v18.2M1684 1001.25h18.2M1686.6 994.75l13 13M1686.6 1007.75l13 -13M1700.24 992.15v18.2M1691.14 1001.25h18.2M1693.74 994.75l13 13M1693.74 1007.75l13 -13M1707.38 992.15v18.2M1698.28 1001.25h18.2M1700.88 994.75l13 13M1700.88 1007.75l13 -13M1714.52 992.15v18.2M1705.42 1001.25h18.2M1708.02 994.75l13 13M1708.02 1007.75l13 -13M1721.66 992.15v18.2M1712.56 1001.25h18.2M1715.16 994.75l13 13M1715.16 1007.75l13 -13M1728.8 992.15v18.2M1719.7 1001.25h18.2M1722.3 994.75l13 13M1722.3 1007.75l13 -13M1735.94 992.15v18.2M1726.84 1001.25h18.2M1729.44 994.75l13 13M1729.44 1007.75l13 -13M1743.08 992.15v18.2M1733.98 1001.25h18.2M1736.58 994.75l13 13M1736.58 1007.75l13 -13M1750.22 992.15v18.2M1741.12 1001.25h18.2M1743.72 994.75l13 13M1743.72 1007.75l13 -13M1757.36 992.15v18.2M1748.26 1001.25h18.2M1750.86 994.75l13 13M1750.86 1007.75l13 -13M1764.5 992.15v18.2M1755.4 1001.25h18.2M1758 994.75l13 13M1758 1007.75l13 -13M1771.64 992.15v18.2M1762.54 1001.25h18.2M1765.14 994.75l13 13M1765.14 1007.75l13 -13M1778.78 992.15v18.2M1769.68 1001.25h18.2M1772.28 994.75l13 13M1772.28 1007.75l13 -13M1785.92 992.15v18.2M1776.82 1001.25h18.2M1779.42 994.75l13 13M1779.42 1007.75l13 -13M1793.06 992.15v18.2M1783.96 1001.25h18.2M1786.56 994.75l13 13M1786.56 1007.75l13 -13M1800.2 992.15v18.2M1791.1 1001.25h18.2M1793.7 994.75l13 13M1793.7 1007.75l13 -13M1807.34 992.15v18.2M1798.24 1001.25h18.2M1800.84 994.75l13 13M1800.84 1007.75l13 -13M1814.48 992.15v18.2M1805.38 1001.25h18.2M1807.98 994.75l13 13M1807.98 1007.75l13 -13M1821.62 992.15v18.2M1812.52 1001.25h18.2M1815.12 994.75l13 13M1815.12 1007.75l13 -13M1828.76 992.15v18.2M1819.66 1001.25h18.2M1822.26 994.75l13 13M1822.26 1007.75l13 -13M1835.9 992.15v18.2M1826.8 1001.25h18.2M1829.4 994.75l13 13M1829.4 1007.75l13 -13M1843.04 992.15v18.2M1833.94 1001.25h18.2M1836.54 994.75l13 13M1836.54 1007.75l13 -13M1850.18 992.15v18.2M1841.08 1001.25h18.2M1843.68 994.75l13 13M1843.68 1007.75l13 -13M1857.32 992.15v18.2M1848.22 1001.25h18.2M1850.82 994.75l13 13M1850.82 1007.75l13 -13M1864.46 992.15v18.2M1855.36 1001.25h18.2M1857.96 994.75l13 13M1857.96 1007.75l13 -13M1871.6 992.15v18.2M1862.5 1001.25h18.2M1865.1 994.75l13 13M1865.1 1007.75l13 -13M1878.74 992.15v18.2M1869.64 1001.25h18.2M1872.24 994.75l13 13M1872.24 1007.75l13 -13M1885.88 992.15v18.2M1876.78 1001.25h18.2M1879.38 994.75l13 13M1879.38 1007.75l13 -13M1893.02 992.15v18.2M1883.92 1001.25h18.2M1886.52 994.75l13 13M1886.52 1007.75l13 -13M1900.16 992.15v18.2M1891.06 1001.25h18.2M1893.66 994.75l13 13M1893.66 1007.75l13 -13M1907.3 992.15v18.2M1898.2 1001.25h18.2M1900.8 994.75l13 13M1900.8 1007.75l13 -13M1914.44 992.15v18.2M1905.34 1001.25h18.2M1907.94 994.75l13 13M1907.94 1007.75l13 -13M1921.58 992.15v18.2M1912.48 1001.25h18.2M1915.08 994.75l13 13M1915.08 1007.75l13 -13M1928.72 992.15v18.2M1919.62 1001.25h18.2M1922.22 994.75l13 13M1922.22 1007.75l13 -13M1935.86 992.15v18.2M1926.76 1001.25h18.2M1929.36 994.75l13 13M1929.36 1007.75l13 -13M1943 992.15v18.2M1933.9 1001.25h18.2M1936.5 994.75l13 13M1936.5 1007.75l13 -13M1950.14 992.15v18.2M1941.04 1001.25h18.2M1943.64 994.75l13 13M1943.64 1007.75l13 -13M1957.28 992.15v18.2M1948.18 1001.25h18.2M1950.78 994.75l13 13M1950.78 1007.75l13 -13M1964.42 992.15v18.2M1955.32 1001.25h18.2M1957.92 994.75l13 13M1957.92 1007.75l13 -13M1971.56 992.15v18.2M1962.46 1001.25h18.2M1965.06 994.75l13 13M1965.06 1007.75l13 -13M1978.7 992.15v18.2M1969.6 1001.25h18.2M1972.2 994.75l13 13M1972.2 1007.75l13 -13" stroke="#D95319" stroke-width="4.1" fill="none" stroke-linejoin="round"/><path d="M1129.04 1466.01 L1136.18 1457.71 L1143.32 1450.33 L1150.46 1443.77 L1157.6 1437.94 L1164.74 1432.76 L1171.88 1428.15 L1179.02 1424.06 L1186.16 1420.42 L1193.3 1417.19 L1200.44 1414.31 L1207.58 1411.75 L1214.72 1409.48 L1221.86 1407.46 L1229 1405.67 L1236.14 1404.07 L1243.28 1402.65 L1250.42 1401.39 L1257.56 1400.27 L1264.7 1399.27 L1271.84 1398.39 L1278.98 1397.6 L1286.12 1396.9 L1293.26 1396.28 L1300.4 1395.73 L1307.54 1395.24 L1314.68 1394.8 L1321.82 1394.41 L1328.96 1394.07 L1336.1 1393.76 L1343.24 1393.49 L1350.38 1393.24 L1357.52 1393.03 L1364.66 1392.84 L1371.8 1392.67 L1378.94 1392.51 L1386.08 1392.38 L1393.22 1392.26 L1400.36 1392.15 L1407.5 1392.06 L1414.64 1391.98 L1421.78 1391.9 L1428.92 1391.83 L1436.06 1391.78 L1443.2 1391.72 L1450.34 1391.68 L1457.48 1391.64 L1464.62 1391.6 L1471.76 1391.57 L1478.9 1391.54 L1486.04 1391.51 L1493.18 1391.49 L1500.32 1391.47 L1507.46 1391.45 L1514.6 1391.43 L1521.74 1391.42 L1528.88 1391.41 L1536.02 1391.39 L1543.16 1391.38 L1550.3 1391.38 L1557.44 1391.37 L1564.58 1391.36 L1571.72 1391.35 L1578.86 1391.35 L1586 1391.34 L1593.14 1391.34 L1600.28 1391.34 L1607.42 1391.33 L1614.56 1391.33 L1621.7 1391.33 L1628.84 1391.32 L1635.98 1391.32 L1643.12 1391.32 L1650.26 1391.32 L1657.4 1391.32 L1664.54 1391.31 L1671.68 1391.31 L1678.82 1391.31 L1685.96 1391.31 L1693.1 1391.31 L1700.24 1391.31 L1707.38 1391.31 L1714.52 1391.31 L1721.66 1391.31 L1728.8 1391.31 L1735.94 1391.31 L1743.08 1391.31 L1750.22 1391.31 L1757.36 1391.31 L1764.5 1391.31 L1771.64 1391.31 L1778.78 1391.31 L1785.92 1391.31 L1793.06 1391.31 L1800.2 1391.31 L1807.34 1391.3 L1814.48 1391.3 L1821.62 1391.3 L1828.76 1391.3 L1835.9 1391.3 L1843.04 1391.3 L1850.18 1391.3 L1857.32 1391.3 L1864.46 1391.3 L1871.6 1391.3 L1878.74 1391.3 L1885.88 1391.3 L1893.02 1391.3 L1900.16 1391.3 L1907.3 1391.3 L1914.44 1391.3 L1921.58 1391.3 L1928.72 1391.3 L1935.86 1391.3 L1943 1391.3 L1950.14 1391.3 L1957.28 1391.3 L1964.42 1391.3 L1971.56 1391.3 L1978.7 1391.3" stroke="#EDB120" stroke-width="3.9" fill="none" stroke-linejoin="round"/><path d="M1129.04 1457.01L1137.04 1466.01L1129.04 1475.01L1121.04 1466.01zM1136.18 1448.71L1144.18 1457.71L1136.18 1466.71L1128.18 1457.71zM1143.32 1441.33L1151.32 1450.33L1143.32 1459.33L1135.32 1450.33zM1150.46 1434.77L1158.46 1443.77L1150.46 1452.77L1142.46 1443.77zM1157.6 1428.94L1165.6 1437.94L1157.6 1446.94L1149.6 1437.94zM1164.74 1423.76L1172.74 1432.76L1164.74 1441.76L1156.74 1432.76zM1171.88 1419.15L1179.88 1428.15L1171.88 1437.15L1163.88 1428.15zM1179.02 1415.06L1187.02 1424.06L1179.02 1433.06L1171.02 1424.06zM1186.16 1411.42L1194.16 1420.42L1186.16 1429.42L1178.16 1420.42zM1193.3 1408.19L1201.3 1417.19L1193.3 1426.19L1185.3 1417.19zM1200.44 1405.31L1208.44 1414.31L1200.44 1423.31L1192.44 1414.31zM1207.58 1402.75L1215.58 1411.75L1207.58 1420.75L1199.58 1411.75zM1214.72 1400.48L1222.72 1409.48L1214.72 1418.48L1206.72 1409.48zM1221.86 1398.46L1229.86 1407.46L1221.86 1416.46L1213.86 1407.46zM1229 1396.67L1237 1405.67L1229 1414.67L1221 1405.67zM1236.14 1395.07L1244.14 1404.07L1236.14 1413.07L1228.14 1404.07zM1243.28 1393.65L1251.28 1402.65L1243.28 1411.65L1235.28 1402.65zM1250.42 1392.39L1258.42 1401.39L1250.42 1410.39L1242.42 1401.39zM1257.56 1391.27L1265.56 1400.27L1257.56 1409.27L1249.56 1400.27zM1264.7 1390.27L1272.7 1399.27L1264.7 1408.27L1256.7 1399.27zM1271.84 1389.39L1279.84 1398.39L1271.84 1407.39L1263.84 1398.39zM1278.98 1388.6L1286.98 1397.6L1278.98 1406.6L1270.98 1397.6zM1286.12 1387.9L1294.12 1396.9L1286.12 1405.9L1278.12 1396.9zM1293.26 1387.28L1301.26 1396.28L1293.26 1405.28L1285.26 1396.28zM1300.4 1386.73L1308.4 1395.73L1300.4 1404.73L1292.4 1395.73zM1307.54 1386.24L1315.54 1395.24L1307.54 1404.24L1299.54 1395.24zM1314.68 1385.8L1322.68 1394.8L1314.68 1403.8L1306.68 1394.8zM1321.82 1385.41L1329.82 1394.41L1321.82 1403.41L1313.82 1394.41zM1328.96 1385.07L1336.96 1394.07L1328.96 1403.07L1320.96 1394.07zM1336.1 1384.76L1344.1 1393.76L1336.1 1402.76L1328.1 1393.76zM1343.24 1384.49L1351.24 1393.49L1343.24 1402.49L1335.24 1393.49zM1350.38 1384.24L1358.38 1393.24L1350.38 1402.24L1342.38 1393.24zM1357.52 1384.03L1365.52 1393.03L1357.52 1402.03L1349.52 1393.03zM1364.66 1383.84L1372.66 1392.84L1364.66 1401.84L1356.66 1392.84zM1371.8 1383.67L1379.8 1392.67L1371.8 1401.67L1363.8 1392.67zM1378.94 1383.51L1386.94 1392.51L1378.94 1401.51L1370.94 1392.51zM1386.08 1383.38L1394.08 1392.38L1386.08 1401.38L1378.08 1392.38zM1393.22 1383.26L1401.22 1392.26L1393.22 1401.26L1385.22 1392.26zM1400.36 1383.15L1408.36 1392.15L1400.36 1401.15L1392.36 1392.15zM1407.5 1383.06L1415.5 1392.06L1407.5 1401.06L1399.5 1392.06zM1414.64 1382.98L1422.64 1391.98L1414.64 1400.98L1406.64 1391.98zM1421.78 1382.9L1429.78 1391.9L1421.78 1400.9L1413.78 1391.9zM1428.92 1382.83L1436.92 1391.83L1428.92 1400.83L1420.92 1391.83zM1436.06 1382.78L1444.06 1391.78L1436.06 1400.78L1428.06 1391.78zM1443.2 1382.72L1451.2 1391.72L1443.2 1400.72L1435.2 1391.72zM1450.34 1382.68L1458.34 1391.68L1450.34 1400.68L1442.34 1391.68zM1457.48 1382.64L1465.48 1391.64L1457.48 1400.64L1449.48 1391.64zM1464.62 1382.6L1472.62 1391.6L1464.62 1400.6L1456.62 1391.6zM1471.76 1382.57L1479.76 1391.57L1471.76 1400.57L1463.76 1391.57zM1478.9 1382.54L1486.9 1391.54L1478.9 1400.54L1470.9 1391.54zM1486.04 1382.51L1494.04 1391.51L1486.04 1400.51L1478.04 1391.51zM1493.18 1382.49L1501.18 1391.49L1493.18 1400.49L1485.18 1391.49zM1500.32 1382.47L1508.32 1391.47L1500.32 1400.47L1492.32 1391.47zM1507.46 1382.45L1515.46 1391.45L1507.46 1400.45L1499.46 1391.45zM1514.6 1382.43L1522.6 1391.43L1514.6 1400.43L1506.6 1391.43zM1521.74 1382.42L1529.74 1391.42L1521.74 1400.42L1513.74 1391.42zM1528.88 1382.41L1536.88 1391.41L1528.88 1400.41L1520.88 1391.41zM1536.02 1382.39L1544.02 1391.39L1536.02 1400.39L1528.02 1391.39zM1543.16 1382.38L1551.16 1391.38L1543.16 1400.38L1535.16 1391.38zM1550.3 1382.38L1558.3 1391.38L1550.3 1400.38L1542.3 1391.38zM1557.44 1382.37L1565.44 1391.37L1557.44 1400.37L1549.44 1391.37zM1564.58 1382.36L1572.58 1391.36L1564.58 1400.36L1556.58 1391.36zM1571.72 1382.35L1579.72 1391.35L1571.72 1400.35L1563.72 1391.35zM1578.86 1382.35L1586.86 1391.35L1578.86 1400.35L1570.86 1391.35zM1586 1382.34L1594 1391.34L1586 1400.34L1578 1391.34zM1593.14 1382.34L1601.14 1391.34L1593.14 1400.34L1585.14 1391.34zM1600.28 1382.34L1608.28 1391.34L1600.28 1400.34L1592.28 1391.34zM1607.42 1382.33L1615.42 1391.33L1607.42 1400.33L1599.42 1391.33zM1614.56 1382.33L1622.56 1391.33L1614.56 1400.33L1606.56 1391.33zM1621.7 1382.33L1629.7 1391.33L1621.7 1400.33L1613.7 1391.33zM1628.84 1382.32L1636.84 1391.32L1628.84 1400.32L1620.84 1391.32zM1635.98 1382.32L1643.98 1391.32L1635.98 1400.32L1627.98 1391.32zM1643.12 1382.32L1651.12 1391.32L1643.12 1400.32L1635.12 1391.32zM1650.26 1382.32L1658.26 1391.32L1650.26 1400.32L1642.26 1391.32zM1657.4 1382.32L1665.4 1391.32L1657.4 1400.32L1649.4 1391.32zM1664.54 1382.31L1672.54 1391.31L1664.54 1400.31L1656.54 1391.31zM1671.68 1382.31L1679.68 1391.31L1671.68 1400.31L1663.68 1391.31zM1678.82 1382.31L1686.82 1391.31L1678.82 1400.31L1670.82 1391.31zM1685.96 1382.31L1693.96 1391.31L1685.96 1400.31L1677.96 1391.31zM1693.1 1382.31L1701.1 1391.31L1693.1 1400.31L1685.1 1391.31zM1700.24 1382.31L1708.24 1391.31L1700.24 1400.31L1692.24 1391.31zM1707.38 1382.31L1715.38 1391.31L1707.38 1400.31L1699.38 1391.31zM1714.52 1382.31L1722.52 1391.31L1714.52 1400.31L1706.52 1391.31zM1721.66 1382.31L1729.66 1391.31L1721.66 1400.31L1713.66 1391.31zM1728.8 1382.31L1736.8 1391.31L1728.8 1400.31L1720.8 1391.31zM1735.94 1382.31L1743.94 1391.31L1735.94 1400.31L1727.94 1391.31zM1743.08 1382.31L1751.08 1391.31L1743.08 1400.31L1735.08 1391.31zM1750.22 1382.31L1758.22 1391.31L1750.22 1400.31L1742.22 1391.31zM1757.36 1382.31L1765.36 1391.31L1757.36 1400.31L1749.36 1391.31zM1764.5 1382.31L1772.5 1391.31L1764.5 1400.31L1756.5 1391.31zM1771.64 1382.31L1779.64 1391.31L1771.64 1400.31L1763.64 1391.31zM1778.78 1382.31L1786.78 1391.31L1778.78 1400.31L1770.78 1391.31zM1785.92 1382.31L1793.92 1391.31L1785.92 1400.31L1777.92 1391.31zM1793.06 1382.31L1801.06 1391.31L1793.06 1400.31L1785.06 1391.31zM1800.2 1382.31L1808.2 1391.31L1800.2 1400.31L1792.2 1391.31zM1807.34 1382.3L1815.34 1391.3L1807.34 1400.3L1799.34 1391.3zM1814.48 1382.3L1822.48 1391.3L1814.48 1400.3L1806.48 1391.3zM1821.62 1382.3L1829.62 1391.3L1821.62 1400.3L1813.62 1391.3zM1828.76 1382.3L1836.76 1391.3L1828.76 1400.3L1820.76 1391.3zM1835.9 1382.3L1843.9 1391.3L1835.9 1400.3L1827.9 1391.3zM1843.04 1382.3L1851.04 1391.3L1843.04 1400.3L1835.04 1391.3zM1850.18 1382.3L1858.18 1391.3L1850.18 1400.3L1842.18 1391.3zM1857.32 1382.3L1865.32 1391.3L1857.32 1400.3L1849.32 1391.3zM1864.46 1382.3L1872.46 1391.3L1864.46 1400.3L1856.46 1391.3zM1871.6 1382.3L1879.6 1391.3L1871.6 1400.3L1863.6 1391.3zM1878.74 1382.3L1886.74 1391.3L1878.74 1400.3L1870.74 1391.3zM1885.88 1382.3L1893.88 1391.3L1885.88 1400.3L1877.88 1391.3zM1893.02 1382.3L1901.02 1391.3L1893.02 1400.3L1885.02 1391.3zM1900.16 1382.3L1908.16 1391.3L1900.16 1400.3L1892.16 1391.3zM1907.3 1382.3L1915.3 1391.3L1907.3 1400.3L1899.3 1391.3zM1914.44 1382.3L1922.44 1391.3L1914.44 1400.3L1906.44 1391.3zM1921.58 1382.3L1929.58 1391.3L1921.58 1400.3L1913.58 1391.3zM1928.72 1382.3L1936.72 1391.3L1928.72 1400.3L1920.72 1391.3zM1935.86 1382.3L1943.86 1391.3L1935.86 1400.3L1927.86 1391.3zM1943 1382.3L1951 1391.3L1943 1400.3L1935 1391.3zM1950.14 1382.3L1958.14 1391.3L1950.14 1400.3L1942.14 1391.3zM1957.28 1382.3L1965.28 1391.3L1957.28 1400.3L1949.28 1391.3zM1964.42 1382.3L1972.42 1391.3L1964.42 1400.3L1956.42 1391.3zM1971.56 1382.3L1979.56 1391.3L1971.56 1400.3L1963.56 1391.3zM1978.7 1382.3L1986.7 1391.3L1978.7 1400.3L1970.7 1391.3z" stroke="#EDB120" stroke-width="4.1" fill="none" stroke-linejoin="miter"/><text class="t" x="1108.2" y="1512.7" text-anchor="end">0</text><text class="t" x="1108.2" y="1377.36" text-anchor="end">0.05</text><text class="t" x="1108.2" y="1242.02" text-anchor="end">0.1</text><text class="t" x="1108.2" y="1106.68" text-anchor="end">0.15</text><text class="t" x="1108.2" y="971.34" text-anchor="end">0.2</text><text class="t" x="1108.2" y="836" text-anchor="end">0.25</text><text class="t" x="1121.9" y="1539.8" text-anchor="middle">0</text><text class="t" x="1266.7" y="1539.8" text-anchor="middle">20</text><text class="t" x="1407.5" y="1539.8" text-anchor="middle">40</text><text class="t" x="1550.3" y="1539.8" text-anchor="middle">60</text><text class="t" x="1693.1" y="1539.8" text-anchor="middle">80</text><text class="t" x="1846.2" y="1539.8" text-anchor="middle">100</text><text class="t" x="1971.2" y="1539.8" text-anchor="middle">120</text><text class="m" font-size="100" stroke="#fff" stroke-width="1.00" transform="translate(1521.61 1575.47) scale(0.3976 0.3484)">n</text><text class="m" font-size="100" stroke="#fff" stroke-width="1.00" transform="translate(1542.11 1575.47) scale(0.3976 0.3484)">,</text><text class="m" font-size="100" stroke="#fff" stroke-width="1.00" transform="translate(1565.55 1575.47) scale(0.3000 0.3484)">q</text><text class="m" style="font-family:'Noto Serif CJK SC',serif;font-style:normal;font-weight:300" font-size="100" stroke="#fff" stroke-width="0.00" transform="translate(1037.17 1190.85) rotate(-90) scale(0.3000 0.2552) skewX(-14)">μ</text><text class="m" style="font-family:'Noto Serif CJK SC',serif;font-style:normal;font-weight:300" font-size="100" stroke="#fff" stroke-width="0.00" transform="translate(1036.32 1169.61) rotate(-90) scale(0.2821 0.2540) skewX(-14)">λ</text><text class="m" style="font-family:'Noto Serif CJK SC',serif;font-style:normal;font-weight:300" font-size="100" stroke="#fff" stroke-width="0.00" transform="translate(1033.69 1154.3) rotate(-90) scale(0.2000 0.2072) skewX(-14)">*</text><rect x="1744" y="1111" width="171.3" height="108.1" fill="#fff" stroke="#000" stroke-width="3.3"/><path d="M1757.2 1131.8H1840.6" stroke="#0072BD" stroke-width="3.9"/><path d="M1793.95 1125.55h12.5v12.5h-12.5z" stroke="#0072BD" stroke-width="3.9" fill="none"/><text class="t" x="1845.7" y="1136.3">q=3/8</text><path d="M1757.2 1165H1840.6" stroke="#D95319" stroke-width="3.9"/><path d="M1800.2 1154v22M1789.2 1165h22M1792 1156.8l16.4 16.4M1792 1173.2l16.4 -16.4" stroke="#D95319" stroke-width="3.9" fill="none"/><text class="t" x="1845.7" y="1169.5">q=1/2</text><path d="M1757.2 1197.9H1840.6" stroke="#EDB120" stroke-width="3.9"/><path d="M1800.2 1187.9L1807.6 1197.9L1800.2 1207.9L1792.8 1197.9z" stroke="#EDB120" stroke-width="3.9" fill="none"/><text class="t" x="1845.7" y="1202.4">q=8/9</text></g>
</svg></body></html>
